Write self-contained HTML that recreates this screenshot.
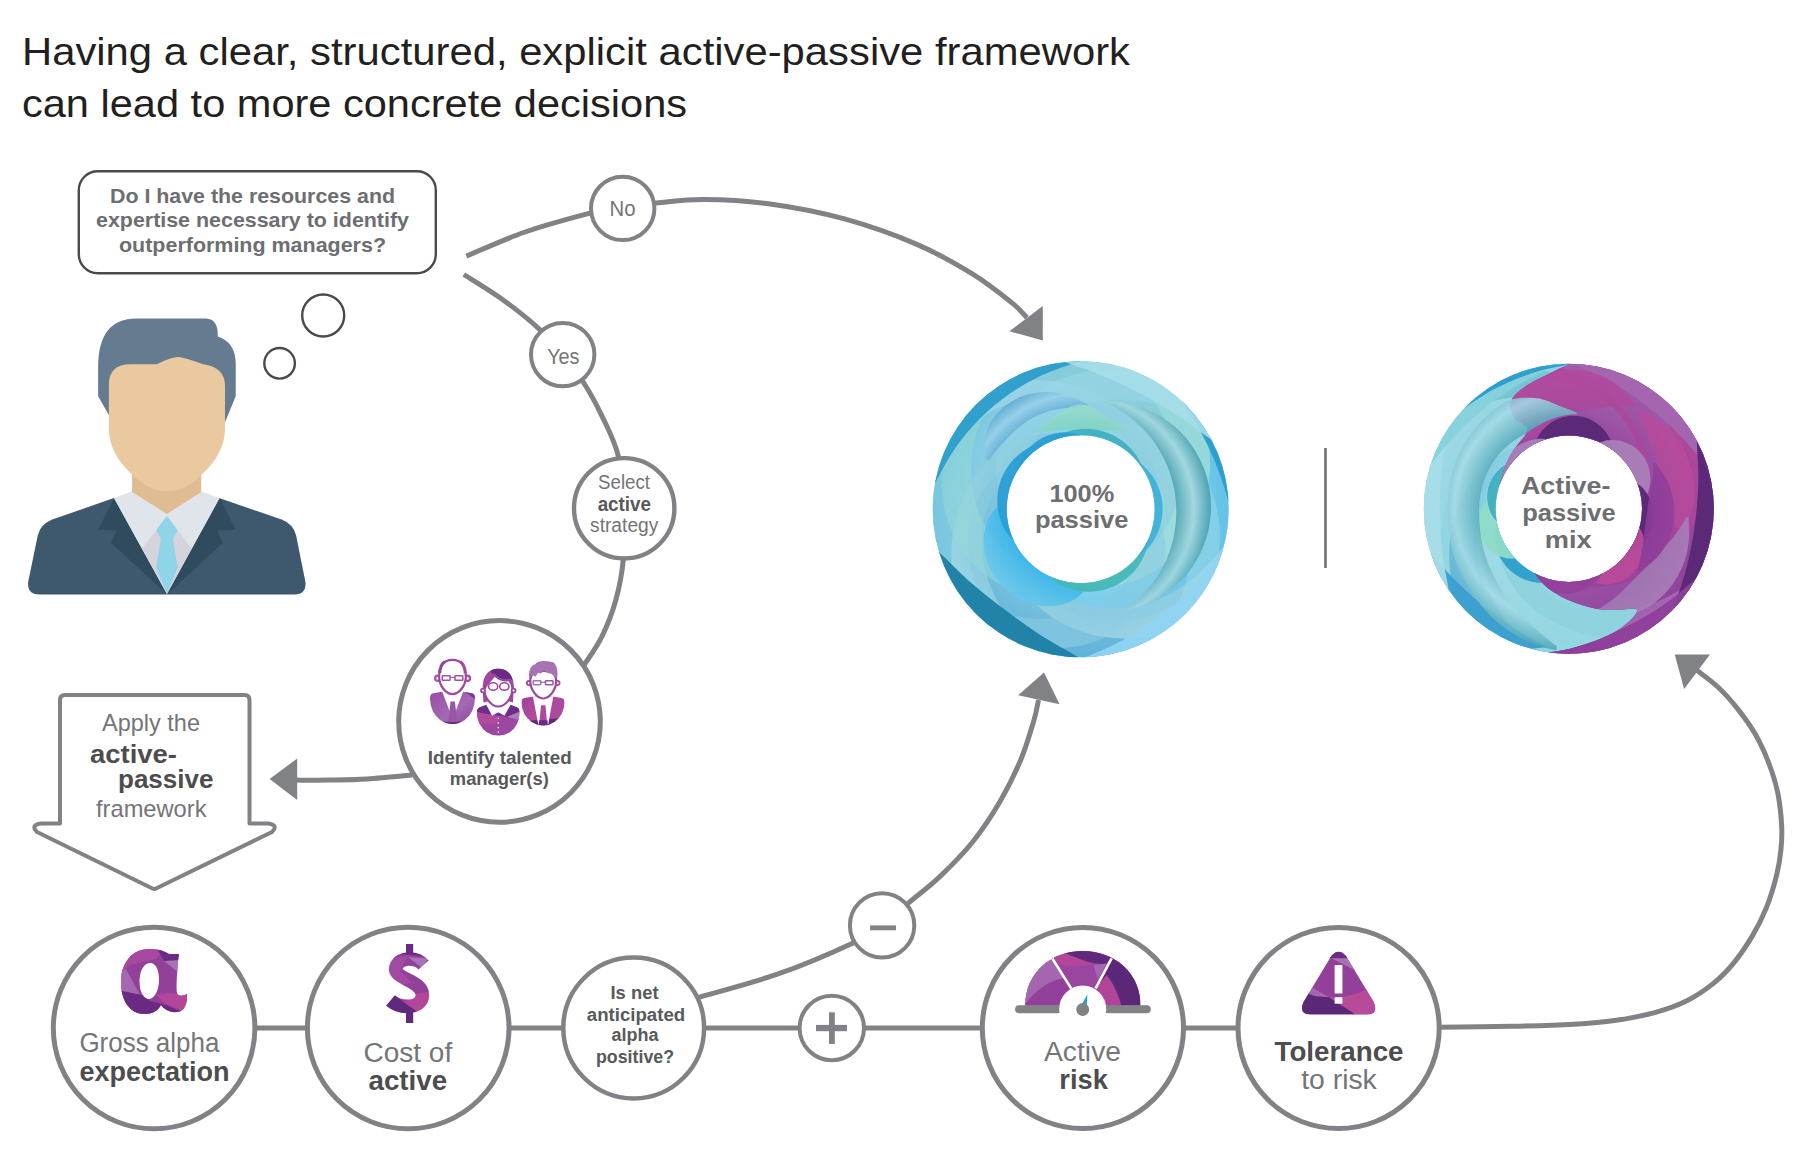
<!DOCTYPE html>
<html><head><meta charset="utf-8">
<style>
html,body{margin:0;padding:0;background:#fff;}
svg{display:block}
text{font-family:"Liberation Sans",sans-serif;}
.b{font-weight:bold}
</style></head>
<body>
<svg width="1799" height="1171" viewBox="0 0 1799 1171">

<rect width="1799" height="1171" fill="#fff"/>
<!-- TITLE -->
<g fill="#231f20" font-size="39">
<text x="22" y="64.5" textLength="1108" lengthAdjust="spacingAndGlyphs">Having a clear, structured, explicit active-passive framework</text>
<text x="22" y="116.7" textLength="665" lengthAdjust="spacingAndGlyphs">can lead to more concrete decisions</text>
</g>
<!-- BUBBLE -->
<rect x="78.8" y="171.2" width="357" height="102" rx="19" ry="19" fill="#fff" stroke="#4a4a4c" stroke-width="2.4"/>
<g class="b" fill="#6d6e71" font-size="20.5" text-anchor="middle">
<text x="252.5" y="202.5" textLength="285" lengthAdjust="spacingAndGlyphs">Do I have the resources and</text>
<text x="252.5" y="227" textLength="313" lengthAdjust="spacingAndGlyphs">expertise necessary to identify</text>
<text x="252.5" y="251.5" textLength="267" lengthAdjust="spacingAndGlyphs">outperforming managers?</text>
</g>
<circle cx="323.2" cy="315.5" r="21" fill="#fff" stroke="#4a4a4c" stroke-width="2.4"/>
<circle cx="279.6" cy="363.3" r="15.3" fill="#fff" stroke="#4a4a4c" stroke-width="2.4"/>
<!-- PERSON (coords in 3.444x crop space, offset 0,280) -->
<g transform="translate(0,280) scale(0.29032)">
<path d="M97,1040 L130,880 Q140,840 180,825 L390,752 L757,752 L970,825 Q1010,840 1020,880 L1052,1040 Q1056,1083 1015,1083 L135,1083 Q93,1083 97,1040 Z" fill="#3e586d"/>
<path d="M392,752 L455,728 L693,728 L757,752 L575,1083 Z" fill="#dfe5ea"/>
<path d="M455,660 L693,660 L693,730 L575,806 L455,730 Z" fill="#e0bc93"/>
<path d="M535,865 L490,925 L575,1083 L660,925 L615,865 Z" fill="#d5d4dd"/>
<path d="M575,812 L612,862 L596,892 L612,990 L575,1083 L538,990 L554,892 L538,862 Z" fill="#90d4e8"/>
<path d="M392,752 L338,860 L402,863 L382,905 L575,1083 Z" fill="#304a5e"/>
<path d="M757,752 L812,860 L748,863 L768,905 L575,1083 Z" fill="#304a5e"/>
<path d="M338,300 Q338,133 470,133 L710,133 Q752,135 750,195 Q812,215 812,290 L812,400 L775,490 L375,465 L338,400 Z" fill="#657c90"/>
<path d="M375,360 Q375,290 450,290 L540,290 Q590,265 615,265 Q640,268 700,290 Q775,300 775,365 L775,520 Q770,600 700,665 Q640,728 575,728 Q510,728 450,665 Q380,600 375,520 Z" fill="#ebc9a0"/>
</g>
<!-- CURVES -->
<g fill="none" stroke="#808285" stroke-width="5">
<path d="M466.4,256.1 C476.2,252.1 504.4,239.2 525.0,232.0 C545.5,224.8 573.4,217.5 589.7,213.2 C606.0,208.9 611.6,207.7 622.7,206.0 C633.8,204.3 642.9,204.0 656.5,202.9 C670.1,201.8 685.1,199.4 704.1,199.6 C723.1,199.8 747.0,200.8 770.2,204.0 C793.5,207.2 819.2,212.0 843.6,218.7 C868.0,225.4 895.5,235.2 916.9,244.4 C938.3,253.6 956.1,263.9 972.0,273.7 C987.9,283.5 1003.1,295.8 1012.3,303.1 C1021.5,310.5 1024.5,315.4 1027.0,317.8"/>
<path d="M463.8,274.5 C470.2,278.6 489.9,290.3 502.4,299.4 C514.9,308.4 529.0,319.6 539.0,328.8 C549.0,338.0 555.3,345.7 562.7,354.6 C570.1,363.5 576.7,371.8 583.2,382.0 C589.8,392.2 596.1,403.7 602.0,416.1 C607.9,428.5 614.7,441.0 618.4,456.4 C622.1,471.8 623.4,491.0 624.2,508.3 C625.0,525.6 624.6,544.8 623.2,560.2 C621.8,575.6 619.2,587.8 615.7,600.5 C612.2,613.2 607.1,625.9 602.0,636.4 C596.9,646.9 589.5,656.8 585.0,663.7 C580.5,670.6 576.7,675.6 575.0,678.0"/>
<path d="M412.0,775.0 C404.5,775.7 380.5,778.1 366.9,779.0 C353.3,779.9 342.2,779.9 330.2,780.1 C318.2,780.3 300.9,780.1 295.0,780.1"/>
<path d="M698.0,997.5 C711.2,993.6 751.6,983.2 777.3,974.2 C803.0,965.2 834.6,951.5 852.0,943.4 C869.4,935.3 872.3,932.3 881.8,925.5 C891.2,918.7 899.1,910.9 908.7,902.8 C918.3,894.7 929.1,886.9 939.6,876.9 C950.1,866.9 962.0,855.2 972.0,842.8 C982.0,830.3 991.5,816.0 999.6,802.2 C1007.7,788.4 1015.0,773.5 1020.7,760.0 C1026.4,746.5 1030.7,731.1 1033.7,721.1 C1036.7,711.1 1037.7,703.5 1038.5,700.0"/>
<path d="M1438.0,1027.2 C1450.3,1027.0 1489.4,1026.8 1512.0,1026.3 C1534.6,1025.8 1556.5,1025.2 1573.6,1024.2 C1590.7,1023.2 1600.9,1022.5 1614.6,1020.5 C1628.3,1018.5 1643.6,1015.5 1655.6,1012.3 C1667.6,1009.0 1676.8,1005.8 1686.4,1001.0 C1696.0,996.2 1705.2,989.9 1713.1,983.6 C1721.0,977.3 1727.1,971.0 1733.6,963.1 C1740.1,955.2 1746.6,945.6 1752.1,936.4 C1757.6,927.2 1762.3,918.0 1766.4,907.7 C1770.5,897.5 1774.3,884.5 1776.7,874.9 C1779.1,865.3 1780.1,858.1 1780.9,850.0 C1781.7,841.9 1782.2,836.0 1781.7,826.5 C1781.2,817.0 1779.9,803.6 1777.8,793.1 C1775.7,782.6 1772.8,773.4 1769.0,763.6 C1765.2,753.8 1760.5,743.3 1755.2,734.1 C1750.0,724.9 1743.7,716.5 1737.5,708.6 C1731.3,700.8 1724.5,693.2 1717.9,687.0 C1711.4,680.8 1702.5,674.6 1698.2,671.3 C1693.9,668.0 1693.0,667.7 1692.0,667.0"/>
<path d="M153,1028 L1340,1028"/>
</g>
<g fill="#808285">
<path d="M1042.8,306 L1042.8,340.5 L1009.4,331.3 Z"/>
<path d="M269.6,779 L297.2,758.5 L297.2,800 Z"/>
<path d="M1044,672.4 L1018.1,695.2 L1059.6,704.2 Z"/>
<path d="M1674.7,654.6 L1710,654.6 L1684.1,688.9 Z"/>
</g>
<!-- SMALL CIRCLES -->
<g fill="#fff" stroke="#808285" stroke-width="4">
<circle cx="622.7" cy="208.4" r="31.7"/>
<circle cx="562.7" cy="354.6" r="31.7"/>
<circle cx="624.2" cy="508.3" r="50.2" stroke-width="4.4"/>
<circle cx="882.1" cy="925.4" r="32.2"/>
<circle cx="831.8" cy="1028" r="32.2"/>
</g>
<g fill="#808285">
<rect x="870.1" y="925.4" width="25.9" height="4.9"/>
<rect x="816" y="1024.9" width="31" height="6.3"/>
<rect x="829" y="1012.3" width="5.8" height="31.6"/>
</g>
<g fill="#747578" font-size="22" text-anchor="middle">
<text x="622.5" y="216.2" textLength="26" lengthAdjust="spacingAndGlyphs">No</text>
<text x="563.3" y="364.3" textLength="32.3" lengthAdjust="spacingAndGlyphs">Yes</text>
</g>
<g fill="#747578" font-size="19.5" text-anchor="middle">
<text x="624" y="488.9" textLength="52" lengthAdjust="spacingAndGlyphs">Select</text>
<text x="624.3" y="510.7" class="b" fill="#58595b" textLength="53.3" lengthAdjust="spacingAndGlyphs">active</text>
<text x="624.2" y="532.2" textLength="68.3" lengthAdjust="spacingAndGlyphs">strategy</text>
</g>
<!-- BIG CIRCLES -->
<g fill="#fff" stroke="#808285" stroke-width="5">
<circle cx="499.5" cy="721.4" r="100.8"/>
<circle cx="154.1" cy="1028" r="100.8"/>
<circle cx="408.2" cy="1028" r="100.8"/>
<circle cx="633.7" cy="1028" r="70.4" stroke-width="4.5"/>
<circle cx="1082.9" cy="1028" r="100.6"/>
<circle cx="1338.6" cy="1028" r="100.6"/>
</g>
<!-- BLOCK ARROW -->
<path d="M60,700 Q60,695 65,695 L244.5,695 Q249.5,695 249.5,700 L249.5,823.5 L268,823.5 Q279,825 272,832 L156,888.5 Q154.3,889.5 152.5,888.5 L37,832 Q30,825 41,823.5 L60,823.5 Z" fill="#fff" stroke="#808285" stroke-width="4" stroke-linejoin="round"/>
<g fill="#747578" font-size="24">
<text x="102" y="731.3" textLength="98" lengthAdjust="spacingAndGlyphs">Apply the</text>
<text x="96" y="816.5" textLength="110.5" lengthAdjust="spacingAndGlyphs">framework</text>
</g>
<g fill="#4d4d4f" class="b" font-size="26.5">
<text x="90" y="762.5" textLength="87" lengthAdjust="spacingAndGlyphs">active-</text>
<text x="118" y="788.2" textLength="95.5" lengthAdjust="spacingAndGlyphs">passive</text>
</g>
<!-- IDENTIFY TEXT -->
<g fill="#58595b" class="b" font-size="18.5" text-anchor="middle">
<text x="499.7" y="764.4" textLength="144" lengthAdjust="spacingAndGlyphs">Identify talented</text>
<text x="499.3" y="785.3" textLength="99" lengthAdjust="spacingAndGlyphs">manager(s)</text>
</g>
<!-- BOTTOM TEXTS -->
<g fill="#747578" font-size="27">
<text x="79.4" y="1051.8" textLength="140" lengthAdjust="spacingAndGlyphs">Gross alpha</text>
<text x="363.5" y="1061.5" textLength="88.7" lengthAdjust="spacingAndGlyphs">Cost of</text>
<text x="1044" y="1061.4" textLength="77" lengthAdjust="spacingAndGlyphs">Active</text>
<text x="1301.2" y="1089" textLength="75.6" lengthAdjust="spacingAndGlyphs">to risk</text>
</g>
<g fill="#4d4d4f" class="b" font-size="27">
<text x="79.4" y="1081" textLength="150" lengthAdjust="spacingAndGlyphs">expectation</text>
<text x="368.5" y="1089.9" textLength="78.6" lengthAdjust="spacingAndGlyphs">active</text>
<text x="1059.3" y="1089" textLength="48.5" lengthAdjust="spacingAndGlyphs">risk</text>
<text x="1274.5" y="1061.4" textLength="129" lengthAdjust="spacingAndGlyphs">Tolerance</text>
</g>
<g fill="#58595b" class="b" font-size="18" text-anchor="middle">
<text x="634.5" y="999.2" textLength="48" lengthAdjust="spacingAndGlyphs">Is net</text>
<text x="636" y="1020.6" textLength="98.4" lengthAdjust="spacingAndGlyphs">anticipated</text>
<text x="635" y="1041.2" textLength="47" lengthAdjust="spacingAndGlyphs">alpha</text>
<text x="635" y="1062.6" textLength="78" lengthAdjust="spacingAndGlyphs">positive?</text>
</g>
<!-- RINGS -->
<defs><clipPath id="Lclip"><path clip-rule="evenodd" d="M932.7,509.2 a148.0,148.0 0 1,0 296.0,0 a148.0,148.0 0 1,0 -296.0,0 Z M1006.7,509.2 a74.0,74.0 0 1,1 148.0,0 a74.0,74.0 0 1,1 -148.0,0 Z"/></clipPath>
<radialGradient id="rg1" gradientUnits="userSpaceOnUse" cx="1080.7" cy="509.2" r="159.4"><stop offset="0.392" stop-color="#8acbe0"/><stop offset="1" stop-color="#9bd6e6"/></radialGradient>
<radialGradient id="rg2" gradientUnits="userSpaceOnUse" cx="1080.7" cy="509.2" r="159.4"><stop offset="0.392" stop-color="#9ad8e0"/><stop offset="1" stop-color="#7cc6d6"/></radialGradient>
<radialGradient id="rg3" gradientUnits="userSpaceOnUse" cx="1080.7" cy="509.2" r="159.4"><stop offset="0.392" stop-color="#a8e0e0"/><stop offset="1" stop-color="#8fd8d8"/></radialGradient>
<radialGradient id="rg4" gradientUnits="userSpaceOnUse" cx="1080.7" cy="509.2" r="159.4"><stop offset="0.392" stop-color="#8ad4f0"/><stop offset="1" stop-color="#4fbce8"/></radialGradient>
<radialGradient id="rg5" gradientUnits="userSpaceOnUse" cx="1080.7" cy="509.2" r="159.4"><stop offset="0.392" stop-color="#86c6dc"/><stop offset="1" stop-color="#9ed4e4"/></radialGradient>
<radialGradient id="rg6" gradientUnits="userSpaceOnUse" cx="1080.7" cy="509.2" r="159.4"><stop offset="0.392" stop-color="#8ac8e4"/><stop offset="1" stop-color="#4aa8d4"/></radialGradient>
<radialGradient id="rg7" gradientUnits="userSpaceOnUse" cx="1080.7" cy="509.2" r="159.4"><stop offset="0.392" stop-color="#7cc4da"/><stop offset="1" stop-color="#a0d8e6"/></radialGradient>
<radialGradient id="rg8" gradientUnits="userSpaceOnUse" cx="1080.7" cy="509.2" r="159.4"><stop offset="0.392" stop-color="#9ad8ea"/><stop offset="1" stop-color="#6cc0dc"/></radialGradient>
<radialGradient id="rg9" gradientUnits="userSpaceOnUse" cx="1080.7" cy="509.2" r="157.4"><stop offset="0.411" stop-color="#8ccfe2"/><stop offset="1" stop-color="#a4dcea"/></radialGradient>
<radialGradient id="rg10" gradientUnits="userSpaceOnUse" cx="1080.7" cy="509.2" r="157.4"><stop offset="0.411" stop-color="#a4e0dc"/><stop offset="1" stop-color="#8fd6d4"/></radialGradient>
<radialGradient id="rg11" gradientUnits="userSpaceOnUse" cx="1080.7" cy="509.2" r="157.4"><stop offset="0.411" stop-color="#7ec4e0"/><stop offset="1" stop-color="#9ad4e8"/></radialGradient>
<radialGradient id="rg12" gradientUnits="userSpaceOnUse" cx="1080.7" cy="509.2" r="157.4"><stop offset="0.411" stop-color="#8fd0e0"/><stop offset="1" stop-color="#a6dde8"/></radialGradient>
<radialGradient id="rg13" gradientUnits="userSpaceOnUse" cx="1080.7" cy="509.2" r="130.5"><stop offset="0.732" stop-color="#4aa2b0"/><stop offset="0.866" stop-color="#a4d8e0"/><stop offset="1" stop-color="#3f9aa8"/></radialGradient>
<radialGradient id="rg14" gradientUnits="userSpaceOnUse" cx="1080.7" cy="509.2" r="110.0"><stop offset="0.664" stop-color="#2fb2ea"/><stop offset="1" stop-color="#6cc8ee"/></radialGradient>
<radialGradient id="rg15" gradientUnits="userSpaceOnUse" cx="1080.7" cy="509.2" r="128.1"><stop offset="0.797" stop-color="#62aed6"/><stop offset="0.898" stop-color="#9ad0ea"/><stop offset="1" stop-color="#5aa8d2"/></radialGradient>
<radialGradient id="rg16" gradientUnits="userSpaceOnUse" cx="1080.7" cy="509.2" r="105.0"><stop offset="0.762" stop-color="#7fd2c4"/><stop offset="1" stop-color="#9adccc"/></radialGradient>
<radialGradient id="rg17" gradientUnits="userSpaceOnUse" cx="1080.7" cy="509.2" r="149.0"><stop offset="0.906" stop-color="#2b9dcc"/><stop offset="1" stop-color="#2b9dcc"/></radialGradient>
<radialGradient id="rg18" gradientUnits="userSpaceOnUse" cx="1080.7" cy="509.2" r="149.0"><stop offset="0.846" stop-color="#1c7fa5"/><stop offset="1" stop-color="#1c7fa5"/></radialGradient>
<radialGradient id="rg19" gradientUnits="userSpaceOnUse" cx="1080.7" cy="509.2" r="149.0"><stop offset="0.893" stop-color="#8fd4f2"/><stop offset="1" stop-color="#8fd4f2"/></radialGradient>
<radialGradient id="rg20" gradientUnits="userSpaceOnUse" cx="1080.7" cy="509.2" r="149.0"><stop offset="0.953" stop-color="#2a9dcc"/><stop offset="1" stop-color="#2a9dcc"/></radialGradient>
<radialGradient id="rg21" gradientUnits="userSpaceOnUse" cx="1080.7" cy="509.2" r="149.0"><stop offset="0.873" stop-color="#a6dde8"/><stop offset="1" stop-color="#a6dde8"/></radialGradient>
<radialGradient id="rg22" gradientUnits="userSpaceOnUse" cx="1080.7" cy="509.2" r="85.0"><stop offset="0.859" stop-color="#2a9fd4"/><stop offset="1" stop-color="#2a9fd4"/></radialGradient>
<radialGradient id="rg23" gradientUnits="userSpaceOnUse" cx="1080.7" cy="509.2" r="84.0"><stop offset="0.869" stop-color="#45b8b8"/><stop offset="1" stop-color="#45b8b8"/></radialGradient>
<radialGradient id="rg24" gradientUnits="userSpaceOnUse" cx="1080.7" cy="509.2" r="81.0"><stop offset="0.901" stop-color="#3fb0c0"/><stop offset="1" stop-color="#3fb0c0"/></radialGradient>
<radialGradient id="rg25" gradientUnits="userSpaceOnUse" cx="1080.7" cy="509.2" r="81.0"><stop offset="0.902" stop-color="#2a9fd4"/><stop offset="1" stop-color="#2a9fd4"/></radialGradient>
<radialGradient id="rg26" gradientUnits="userSpaceOnUse" cx="1080.7" cy="509.2" r="82.0"><stop offset="0.890" stop-color="#3ab0d8"/><stop offset="1" stop-color="#3ab0d8"/></radialGradient></defs>
<g clip-path="url(#Lclip)">
<rect x="930.7" y="359.2" width="300.0" height="300.0" fill="#93d2e2"/>
<path d="M927.1,482.1 L926.1,470.5 L929.1,459.7 L933.4,449.3 L938.7,439.3 L944.7,429.9 L951.5,421.1 L959.0,413.0 L967.0,405.5 L975.6,398.7 L984.6,392.7 L993.9,387.4 L1003.5,382.9 L1013.4,379.3 L1023.4,376.4 L1033.5,374.4 L1043.6,373.1 L1053.7,372.7 L1063.6,373.1 L1073.4,374.2 L1082.9,376.1 L1092.1,378.7 L1101.0,382.0 L1109.4,385.9 L1117.3,390.4 L1124.8,395.5 L1131.7,401.0 L1138.0,407.0 L1143.7,413.4 L1148.7,420.2 L1153.1,427.2 L1156.8,434.4 L1159.8,441.7 L1162.0,449.2 L1163.6,456.6 L1164.4,464.0 L1164.6,471.3 L1164.0,478.5 L1162.7,485.4 L1160.7,492.0 L1157.9,498.2 L1154.1,504.0 L1146.7,509.2 L1146.7,509.2 L1143.2,504.8 L1142.6,500.4 L1142.3,495.9 L1141.9,491.4 L1141.3,486.8 L1140.6,482.2 L1139.5,477.5 L1138.2,472.7 L1136.6,467.9 L1134.7,463.2 L1132.4,458.4 L1129.7,453.7 L1126.6,449.1 L1123.2,444.5 L1119.4,440.2 L1115.2,435.9 L1110.7,431.9 L1105.7,428.1 L1100.4,424.6 L1094.7,421.4 L1088.6,418.5 L1082.2,416.0 L1075.5,413.9 L1068.6,412.3 L1061.3,411.1 L1053.8,410.4 L1046.1,410.2 L1038.2,410.6 L1030.1,411.6 L1022.0,413.1 L1013.8,415.3 L1005.6,418.1 L997.4,421.6 L989.2,425.7 L981.2,430.5 L973.3,436.0 L965.6,442.1 L958.2,448.9 L950.9,456.4 L943.8,464.5 L936.7,473.2 L927.1,482.1 Z" fill="url(#rg1)" fill-opacity="0.80"/>
<path d="M991.2,381.4 L998.8,372.6 L1008.6,367.0 L1018.9,362.7 L1029.7,359.4 L1040.6,357.0 L1051.6,355.6 L1062.7,355.1 L1073.7,355.5 L1084.5,356.7 L1095.1,358.8 L1105.4,361.7 L1115.4,365.4 L1125.0,369.7 L1134.1,374.8 L1142.7,380.5 L1150.7,386.8 L1158.1,393.6 L1164.9,400.9 L1171.0,408.6 L1176.4,416.7 L1181.1,425.0 L1185.0,433.6 L1188.2,442.3 L1190.6,451.1 L1192.3,460.0 L1193.2,468.8 L1193.4,477.5 L1192.9,486.0 L1191.7,494.3 L1189.9,502.4 L1187.4,510.1 L1184.3,517.4 L1180.6,524.3 L1176.5,530.6 L1171.8,536.5 L1166.8,541.8 L1161.3,546.4 L1155.6,550.4 L1149.5,553.6 L1143.1,556.0 L1136.3,557.4 L1127.4,555.9 L1127.4,555.9 L1128.0,550.3 L1130.7,546.8 L1133.6,543.4 L1136.5,539.9 L1139.4,536.3 L1142.1,532.4 L1144.7,528.4 L1147.2,524.1 L1149.4,519.6 L1151.4,514.8 L1153.1,509.8 L1154.6,504.6 L1155.7,499.2 L1156.5,493.6 L1156.9,487.8 L1156.9,481.8 L1156.5,475.7 L1155.7,469.6 L1154.4,463.3 L1152.7,457.0 L1150.4,450.7 L1147.7,444.4 L1144.4,438.2 L1140.6,432.1 L1136.4,426.1 L1131.5,420.3 L1126.2,414.7 L1120.3,409.4 L1114.0,404.4 L1107.1,399.7 L1099.8,395.5 L1092.0,391.7 L1083.7,388.3 L1075.0,385.5 L1066.0,383.2 L1056.5,381.5 L1046.8,380.4 L1036.7,379.9 L1026.3,380.1 L1015.5,380.8 L1004.4,381.9 L991.2,381.4 Z" fill="url(#rg2)" fill-opacity="0.80"/>
<path d="M1107.8,355.6 L1119.4,354.6 L1130.2,357.6 L1140.6,361.9 L1150.6,367.2 L1160.0,373.2 L1168.8,380.0 L1176.9,387.5 L1184.4,395.5 L1191.2,404.1 L1197.2,413.1 L1202.5,422.4 L1207.0,432.0 L1210.6,441.9 L1213.5,451.9 L1215.5,462.0 L1216.8,472.1 L1217.2,482.2 L1216.8,492.1 L1215.7,501.9 L1213.8,511.4 L1211.2,520.6 L1207.9,529.5 L1204.0,537.9 L1199.5,545.8 L1194.4,553.3 L1188.9,560.2 L1182.9,566.5 L1176.5,572.2 L1169.7,577.2 L1162.7,581.6 L1155.5,585.3 L1148.2,588.3 L1140.7,590.5 L1133.3,592.1 L1125.9,592.9 L1118.6,593.1 L1111.4,592.5 L1104.5,591.2 L1097.9,589.2 L1091.7,586.4 L1085.9,582.6 L1080.7,575.2 L1080.7,575.2 L1085.1,571.7 L1089.5,571.1 L1094.0,570.8 L1098.5,570.4 L1103.1,569.8 L1107.7,569.1 L1112.4,568.0 L1117.2,566.7 L1122.0,565.1 L1126.7,563.2 L1131.5,560.9 L1136.2,558.2 L1140.8,555.1 L1145.4,551.7 L1149.7,547.9 L1154.0,543.7 L1158.0,539.2 L1161.8,534.2 L1165.3,528.9 L1168.5,523.2 L1171.4,517.1 L1173.9,510.7 L1176.0,504.0 L1177.6,497.1 L1178.8,489.8 L1179.5,482.3 L1179.7,474.6 L1179.3,466.7 L1178.3,458.6 L1176.8,450.5 L1174.6,442.3 L1171.8,434.1 L1168.3,425.9 L1164.2,417.7 L1159.4,409.7 L1153.9,401.8 L1147.8,394.1 L1141.0,386.7 L1133.5,379.4 L1125.4,372.3 L1116.7,365.2 L1107.8,355.6 Z" fill="url(#rg3)" fill-opacity="0.80"/>
<path d="M1208.5,419.7 L1217.3,427.3 L1222.9,437.1 L1227.2,447.4 L1230.5,458.2 L1232.9,469.1 L1234.3,480.1 L1234.8,491.2 L1234.4,502.2 L1233.2,513.0 L1231.1,523.6 L1228.2,533.9 L1224.5,543.9 L1220.2,553.5 L1215.1,562.6 L1209.4,571.2 L1203.1,579.2 L1196.3,586.6 L1189.0,593.4 L1181.3,599.5 L1173.2,604.9 L1164.9,609.6 L1156.3,613.5 L1147.6,616.7 L1138.8,619.1 L1129.9,620.8 L1121.1,621.7 L1112.4,621.9 L1103.9,621.4 L1095.6,620.2 L1087.5,618.4 L1079.8,615.9 L1072.5,612.8 L1065.6,609.1 L1059.3,605.0 L1053.4,600.3 L1048.1,595.3 L1043.5,589.8 L1039.5,584.1 L1036.3,578.0 L1033.9,571.6 L1032.5,564.8 L1034.0,555.9 L1034.0,555.9 L1039.6,556.5 L1043.1,559.2 L1046.5,562.1 L1050.0,565.0 L1053.6,567.9 L1057.5,570.6 L1061.5,573.2 L1065.8,575.7 L1070.3,577.9 L1075.1,579.9 L1080.1,581.6 L1085.3,583.1 L1090.7,584.2 L1096.3,585.0 L1102.1,585.4 L1108.1,585.4 L1114.2,585.0 L1120.3,584.2 L1126.6,582.9 L1132.9,581.2 L1139.2,578.9 L1145.5,576.2 L1151.7,572.9 L1157.8,569.1 L1163.8,564.9 L1169.6,560.0 L1175.2,554.7 L1180.5,548.8 L1185.5,542.5 L1190.2,535.6 L1194.4,528.3 L1198.2,520.5 L1201.6,512.2 L1204.4,503.5 L1206.7,494.5 L1208.4,485.0 L1209.5,475.3 L1210.0,465.2 L1209.8,454.8 L1209.1,444.0 L1208.0,432.9 L1208.5,419.7 Z" fill="url(#rg4)" fill-opacity="0.80"/>
<path d="M1234.3,536.3 L1235.3,547.9 L1232.3,558.7 L1228.0,569.1 L1222.7,579.1 L1216.7,588.5 L1209.9,597.3 L1202.4,605.4 L1194.4,612.9 L1185.8,619.7 L1176.8,625.7 L1167.5,631.0 L1157.9,635.5 L1148.0,639.1 L1138.0,642.0 L1127.9,644.0 L1117.8,645.3 L1107.7,645.7 L1097.8,645.3 L1088.0,644.2 L1078.5,642.3 L1069.3,639.7 L1060.4,636.4 L1052.0,632.5 L1044.1,628.0 L1036.6,622.9 L1029.7,617.4 L1023.4,611.4 L1017.7,605.0 L1012.7,598.2 L1008.3,591.2 L1004.6,584.0 L1001.6,576.7 L999.4,569.2 L997.8,561.8 L997.0,554.4 L996.8,547.1 L997.4,539.9 L998.7,533.0 L1000.7,526.4 L1003.5,520.2 L1007.3,514.4 L1014.7,509.2 L1014.7,509.2 L1018.2,513.6 L1018.8,518.0 L1019.1,522.5 L1019.5,527.0 L1020.1,531.6 L1020.8,536.2 L1021.9,540.9 L1023.2,545.7 L1024.8,550.5 L1026.7,555.2 L1029.0,560.0 L1031.7,564.7 L1034.8,569.3 L1038.2,573.9 L1042.0,578.2 L1046.2,582.5 L1050.7,586.5 L1055.7,590.3 L1061.0,593.8 L1066.7,597.0 L1072.8,599.9 L1079.2,602.4 L1085.9,604.5 L1092.8,606.1 L1100.1,607.3 L1107.6,608.0 L1115.3,608.2 L1123.2,607.8 L1131.3,606.8 L1139.4,605.3 L1147.6,603.1 L1155.8,600.3 L1164.0,596.8 L1172.2,592.7 L1180.2,587.9 L1188.1,582.4 L1195.8,576.3 L1203.2,569.5 L1210.5,562.0 L1217.6,553.9 L1224.7,545.2 L1234.3,536.3 Z" fill="url(#rg5)" fill-opacity="0.80"/>
<path d="M1170.2,637.0 L1162.6,645.8 L1152.8,651.4 L1142.5,655.7 L1131.7,659.0 L1120.8,661.4 L1109.8,662.8 L1098.7,663.3 L1087.7,662.9 L1076.9,661.7 L1066.3,659.6 L1056.0,656.7 L1046.0,653.0 L1036.4,648.7 L1027.3,643.6 L1018.7,637.9 L1010.7,631.6 L1003.3,624.8 L996.5,617.5 L990.4,609.8 L985.0,601.7 L980.3,593.4 L976.4,584.8 L973.2,576.1 L970.8,567.3 L969.1,558.4 L968.2,549.6 L968.0,540.9 L968.5,532.4 L969.7,524.1 L971.5,516.0 L974.0,508.3 L977.1,501.0 L980.8,494.1 L984.9,487.8 L989.6,481.9 L994.6,476.6 L1000.1,472.0 L1005.8,468.0 L1011.9,464.8 L1018.3,462.4 L1025.1,461.0 L1034.0,462.5 L1034.0,462.5 L1033.4,468.1 L1030.7,471.6 L1027.8,475.0 L1024.9,478.5 L1022.0,482.1 L1019.3,486.0 L1016.7,490.0 L1014.2,494.3 L1012.0,498.8 L1010.0,503.6 L1008.3,508.6 L1006.8,513.8 L1005.7,519.2 L1004.9,524.8 L1004.5,530.6 L1004.5,536.6 L1004.9,542.7 L1005.7,548.8 L1007.0,555.1 L1008.7,561.4 L1011.0,567.7 L1013.7,574.0 L1017.0,580.2 L1020.8,586.3 L1025.0,592.3 L1029.9,598.1 L1035.2,603.7 L1041.1,609.0 L1047.4,614.0 L1054.3,618.7 L1061.6,622.9 L1069.4,626.7 L1077.7,630.1 L1086.4,632.9 L1095.4,635.2 L1104.9,636.9 L1114.6,638.0 L1124.7,638.5 L1135.1,638.3 L1145.9,637.6 L1157.0,636.5 L1170.2,637.0 Z" fill="url(#rg6)" fill-opacity="0.80"/>
<path d="M1053.6,662.8 L1042.0,663.8 L1031.2,660.8 L1020.8,656.5 L1010.8,651.2 L1001.4,645.2 L992.6,638.4 L984.5,630.9 L977.0,622.9 L970.2,614.3 L964.2,605.3 L958.9,596.0 L954.4,586.4 L950.8,576.5 L947.9,566.5 L945.9,556.4 L944.6,546.3 L944.2,536.2 L944.6,526.3 L945.7,516.5 L947.6,507.0 L950.2,497.8 L953.5,488.9 L957.4,480.5 L961.9,472.6 L967.0,465.1 L972.5,458.2 L978.5,451.9 L984.9,446.2 L991.7,441.2 L998.7,436.8 L1005.9,433.1 L1013.2,430.1 L1020.7,427.9 L1028.1,426.3 L1035.5,425.5 L1042.8,425.3 L1050.0,425.9 L1056.9,427.2 L1063.5,429.2 L1069.7,432.0 L1075.5,435.8 L1080.7,443.2 L1080.7,443.2 L1076.3,446.7 L1071.9,447.3 L1067.4,447.6 L1062.9,448.0 L1058.3,448.6 L1053.7,449.3 L1049.0,450.4 L1044.2,451.7 L1039.4,453.3 L1034.7,455.2 L1029.9,457.5 L1025.2,460.2 L1020.6,463.3 L1016.0,466.7 L1011.7,470.5 L1007.4,474.7 L1003.4,479.2 L999.6,484.2 L996.1,489.5 L992.9,495.2 L990.0,501.3 L987.5,507.7 L985.4,514.4 L983.8,521.3 L982.6,528.6 L981.9,536.1 L981.7,543.8 L982.1,551.7 L983.1,559.8 L984.6,567.9 L986.8,576.1 L989.6,584.3 L993.1,592.5 L997.2,600.7 L1002.0,608.7 L1007.5,616.6 L1013.6,624.3 L1020.4,631.7 L1027.9,639.0 L1036.0,646.1 L1044.7,653.2 L1053.6,662.8 Z" fill="url(#rg7)" fill-opacity="0.80"/>
<path d="M952.9,598.7 L944.1,591.1 L938.5,581.3 L934.2,571.0 L930.9,560.2 L928.5,549.3 L927.1,538.3 L926.6,527.2 L927.0,516.2 L928.2,505.4 L930.3,494.8 L933.2,484.5 L936.9,474.5 L941.2,464.9 L946.3,455.8 L952.0,447.2 L958.3,439.2 L965.1,431.8 L972.4,425.0 L980.1,418.9 L988.2,413.5 L996.5,408.8 L1005.1,404.9 L1013.8,401.7 L1022.6,399.3 L1031.5,397.6 L1040.3,396.7 L1049.0,396.5 L1057.5,397.0 L1065.8,398.2 L1073.9,400.0 L1081.6,402.5 L1088.9,405.6 L1095.8,409.3 L1102.1,413.4 L1108.0,418.1 L1113.3,423.1 L1117.9,428.6 L1121.9,434.3 L1125.1,440.4 L1127.5,446.8 L1128.9,453.6 L1127.4,462.5 L1127.4,462.5 L1121.8,461.9 L1118.3,459.2 L1114.9,456.3 L1111.4,453.4 L1107.8,450.5 L1103.9,447.8 L1099.9,445.2 L1095.6,442.7 L1091.1,440.5 L1086.3,438.5 L1081.3,436.8 L1076.1,435.3 L1070.7,434.2 L1065.1,433.4 L1059.3,433.0 L1053.3,433.0 L1047.2,433.4 L1041.1,434.2 L1034.8,435.5 L1028.5,437.2 L1022.2,439.5 L1015.9,442.2 L1009.7,445.5 L1003.6,449.3 L997.6,453.5 L991.8,458.4 L986.2,463.7 L980.9,469.6 L975.9,475.9 L971.2,482.8 L967.0,490.1 L963.2,497.9 L959.8,506.2 L957.0,514.9 L954.7,523.9 L953.0,533.4 L951.9,543.1 L951.4,553.2 L951.6,563.6 L952.3,574.4 L953.4,585.5 L952.9,598.7 Z" fill="url(#rg8)" fill-opacity="0.80"/>
<path d="M1214.8,431.8 L1211.1,421.1 L1204.3,412.3 L1196.5,404.3 L1188.0,397.2 L1179.1,390.9 L1169.6,385.3 L1159.8,380.7 L1149.8,376.8 L1139.6,373.8 L1129.3,371.7 L1119.0,370.4 L1108.7,369.9 L1098.5,370.2 L1088.5,371.4 L1078.8,373.3 L1069.4,376.0 L1060.3,379.3 L1051.7,383.3 L1043.6,387.9 L1036.0,393.1 L1028.9,398.9 L1022.5,405.0 L1016.7,411.6 L1011.6,418.5 L1007.2,425.7 L1003.4,433.0 L1000.4,440.6 L998.2,448.2 L996.6,455.8 L995.8,463.3 L995.7,470.8 L996.3,478.0 L997.7,485.0 L999.7,491.7 L1002.6,498.1 L1006.4,503.9 L1013.5,509.2 L1013.5,509.2 L1016.2,504.6 L1016.4,500.0 L1016.4,495.3 L1016.5,490.5 L1016.8,485.6 L1017.3,480.6 L1018.2,475.4 L1019.4,470.2 L1020.9,465.0 L1022.8,459.7 L1025.2,454.4 L1027.9,449.2 L1031.1,444.0 L1034.7,439.0 L1038.7,434.0 L1043.2,429.3 L1048.1,424.7 L1053.5,420.4 L1059.3,416.4 L1065.6,412.8 L1072.2,409.4 L1079.2,406.5 L1086.7,404.1 L1094.4,402.1 L1102.5,400.7 L1110.9,399.8 L1119.5,399.5 L1128.3,399.8 L1137.3,400.7 L1146.5,402.3 L1155.8,404.6 L1165.1,407.6 L1174.5,411.4 L1183.9,415.8 L1193.3,420.9 L1202.9,426.6 L1214.8,431.8 Z" fill="url(#rg9)" fill-opacity="0.50"/>
<path d="M1003.3,375.1 L992.6,378.8 L983.8,385.6 L975.8,393.4 L968.7,401.9 L962.4,410.8 L956.8,420.3 L952.2,430.1 L948.3,440.1 L945.3,450.3 L943.2,460.6 L941.9,470.9 L941.4,481.2 L941.7,491.4 L942.9,501.4 L944.8,511.1 L947.5,520.5 L950.8,529.6 L954.8,538.2 L959.4,546.3 L964.6,553.9 L970.4,561.0 L976.5,567.4 L983.1,573.2 L990.0,578.3 L997.2,582.7 L1004.5,586.5 L1012.1,589.5 L1019.7,591.7 L1027.3,593.3 L1034.8,594.1 L1042.3,594.2 L1049.5,593.6 L1056.5,592.2 L1063.2,590.2 L1069.6,587.3 L1075.4,583.5 L1080.7,576.4 L1080.7,576.4 L1076.1,573.7 L1071.5,573.5 L1066.8,573.5 L1062.0,573.4 L1057.1,573.1 L1052.1,572.6 L1046.9,571.7 L1041.7,570.5 L1036.5,569.0 L1031.2,567.1 L1025.9,564.7 L1020.7,562.0 L1015.5,558.8 L1010.5,555.2 L1005.5,551.2 L1000.8,546.7 L996.2,541.8 L991.9,536.4 L987.9,530.6 L984.3,524.3 L980.9,517.7 L978.0,510.7 L975.6,503.2 L973.6,495.5 L972.2,487.4 L971.3,479.0 L971.0,470.4 L971.3,461.6 L972.2,452.6 L973.8,443.4 L976.1,434.1 L979.1,424.8 L982.9,415.4 L987.3,406.0 L992.4,396.6 L998.1,387.0 L1003.3,375.1 Z" fill="url(#rg10)" fill-opacity="0.50"/>
<path d="M946.6,586.6 L950.3,597.3 L957.1,606.1 L964.9,614.1 L973.4,621.2 L982.3,627.5 L991.8,633.1 L1001.6,637.7 L1011.6,641.6 L1021.8,644.6 L1032.1,646.7 L1042.4,648.0 L1052.7,648.5 L1062.9,648.2 L1072.9,647.0 L1082.6,645.1 L1092.0,642.4 L1101.1,639.1 L1109.7,635.1 L1117.8,630.5 L1125.4,625.3 L1132.5,619.5 L1138.9,613.4 L1144.7,606.8 L1149.8,599.9 L1154.2,592.7 L1158.0,585.4 L1161.0,577.8 L1163.2,570.2 L1164.8,562.6 L1165.6,555.1 L1165.7,547.6 L1165.1,540.4 L1163.7,533.4 L1161.7,526.7 L1158.8,520.3 L1155.0,514.5 L1147.9,509.2 L1147.9,509.2 L1145.2,513.8 L1145.0,518.4 L1145.0,523.1 L1144.9,527.9 L1144.6,532.8 L1144.1,537.8 L1143.2,543.0 L1142.0,548.2 L1140.5,553.4 L1138.6,558.7 L1136.2,564.0 L1133.5,569.2 L1130.3,574.4 L1126.7,579.4 L1122.7,584.4 L1118.2,589.1 L1113.3,593.7 L1107.9,598.0 L1102.1,602.0 L1095.8,605.6 L1089.2,609.0 L1082.2,611.9 L1074.7,614.3 L1067.0,616.3 L1058.9,617.7 L1050.5,618.6 L1041.9,618.9 L1033.1,618.6 L1024.1,617.7 L1014.9,616.1 L1005.6,613.8 L996.3,610.8 L986.9,607.0 L977.5,602.6 L968.1,597.5 L958.5,591.8 L946.6,586.6 Z" fill="url(#rg11)" fill-opacity="0.50"/>
<path d="M1158.1,643.3 L1168.8,639.6 L1177.6,632.8 L1185.6,625.0 L1192.7,616.5 L1199.0,607.6 L1204.6,598.1 L1209.2,588.3 L1213.1,578.3 L1216.1,568.1 L1218.2,557.8 L1219.5,547.5 L1220.0,537.2 L1219.7,527.0 L1218.5,517.0 L1216.6,507.3 L1213.9,497.9 L1210.6,488.8 L1206.6,480.2 L1202.0,472.1 L1196.8,464.5 L1191.0,457.4 L1184.9,451.0 L1178.3,445.2 L1171.4,440.1 L1164.2,435.7 L1156.9,431.9 L1149.3,428.9 L1141.7,426.7 L1134.1,425.1 L1126.6,424.3 L1119.1,424.2 L1111.9,424.8 L1104.9,426.2 L1098.2,428.2 L1091.8,431.1 L1086.0,434.9 L1080.7,442.0 L1080.7,442.0 L1085.3,444.7 L1089.9,444.9 L1094.6,444.9 L1099.4,445.0 L1104.3,445.3 L1109.3,445.8 L1114.5,446.7 L1119.7,447.9 L1124.9,449.4 L1130.2,451.3 L1135.5,453.7 L1140.7,456.4 L1145.9,459.6 L1150.9,463.2 L1155.9,467.2 L1160.6,471.7 L1165.2,476.6 L1169.5,482.0 L1173.5,487.8 L1177.1,494.1 L1180.5,500.7 L1183.4,507.7 L1185.8,515.2 L1187.8,522.9 L1189.2,531.0 L1190.1,539.4 L1190.4,548.0 L1190.1,556.8 L1189.2,565.8 L1187.6,575.0 L1185.3,584.3 L1182.3,593.6 L1178.5,603.0 L1174.1,612.4 L1169.0,621.8 L1163.3,631.4 L1158.1,643.3 Z" fill="url(#rg12)" fill-opacity="0.50"/>
<path d="M1103.6,401.6 L1111.6,401.3 L1119.7,401.9 L1127.9,403.3 L1136.0,405.3 L1143.9,408.0 L1151.8,411.4 L1159.3,415.5 L1166.6,420.2 L1173.5,425.6 L1180.0,431.6 L1186.1,438.1 L1191.5,445.2 L1196.4,452.8 L1200.6,460.7 L1204.2,469.1 L1207.0,477.7 L1209.1,486.6 L1210.5,495.6 L1211.0,504.6 L1210.8,513.7 L1209.8,522.8 L1208.1,531.7 L1205.6,540.3 L1202.4,548.7 L1198.5,556.8 L1194.0,564.5 L1188.9,571.7 L1183.2,578.4 L1177.1,584.5 L1170.5,590.1 L1163.6,595.0 L1156.3,599.4 L1148.9,603.0 L1141.2,606.0 L1133.4,608.3 L1125.4,609.7 L1125.4,609.7 L1131.6,604.8 L1137.3,599.9 L1142.8,594.6 L1147.8,589.1 L1152.4,583.4 L1156.6,577.5 L1160.4,571.4 L1163.7,565.2 L1166.7,558.9 L1169.3,552.4 L1171.4,545.8 L1173.2,539.2 L1174.5,532.6 L1175.5,525.9 L1176.1,519.2 L1176.3,512.5 L1176.2,505.9 L1175.7,499.2 L1174.8,492.6 L1173.6,486.0 L1171.9,479.6 L1170.0,473.1 L1167.6,466.8 L1164.9,460.6 L1161.8,454.5 L1158.3,448.5 L1154.5,442.7 L1150.3,437.1 L1145.7,431.7 L1140.7,426.6 L1135.4,421.7 L1129.7,417.1 L1123.6,412.7 L1117.3,408.7 L1110.6,405.1 L1103.6,401.6 Z" fill="url(#rg13)" fill-opacity="0.85"/>
<path d="M1087.1,582.9 L1082.2,593.5 L1076.0,598.7 L1069.3,602.3 L1062.1,604.6 L1054.8,606.0 L1047.3,606.3 L1039.8,605.7 L1032.3,604.1 L1025.1,601.7 L1018.2,598.4 L1011.7,594.4 L1005.7,589.6 L1000.3,584.2 L995.5,578.2 L991.5,571.7 L988.2,564.8 L985.8,557.6 L984.2,550.1 L983.6,542.6 L983.9,535.1 L985.3,527.8 L987.6,520.6 L991.2,513.9 L996.4,507.7 L1007.0,502.8 L1008.0,502.8 L1007.7,507.9 L1007.8,513.0 L1008.2,518.1 L1009.0,523.1 L1010.2,528.1 L1011.7,533.0 L1013.5,537.7 L1015.7,542.3 L1018.1,546.8 L1020.9,551.1 L1024.0,555.1 L1027.3,559.0 L1030.9,562.6 L1034.8,565.9 L1038.8,569.0 L1043.1,571.8 L1047.6,574.2 L1052.2,576.4 L1056.9,578.2 L1061.8,579.7 L1066.8,580.9 L1071.8,581.7 L1076.9,582.1 L1082.0,582.2 L1087.1,581.9 Z" fill="url(#rg14)" fill-opacity="0.85"/>
<path d="M985.3,458.5 L984.7,448.9 L985.2,439.2 L987.3,429.7 L991.2,421.3 L996.7,413.9 L1003.3,407.4 L1010.7,402.0 L1018.9,397.6 L1027.6,394.6 L1036.6,392.8 L1045.7,392.0 L1054.8,392.5 L1063.8,394.4 L1072.4,397.3 L1080.5,400.6 L1088.0,404.5 L1088.0,405.5 L1080.5,406.5 L1073.1,407.5 L1065.8,408.0 L1058.5,408.9 L1051.2,410.5 L1044.2,412.8 L1037.3,415.6 L1030.7,419.0 L1024.4,423.0 L1018.6,427.5 L1013.1,432.5 L1007.9,437.7 L1002.9,443.1 L998.0,448.5 L993.2,454.3 L988.9,460.4 Z" fill="url(#rg15)" fill-opacity="0.80"/>
<path d="M1036.2,432.1 L1041.0,427.3 L1046.2,422.8 L1051.9,418.5 L1058.0,414.3 L1064.4,409.9 L1071.3,406.3 L1078.7,404.4 L1086.3,405.1 L1093.5,408.1 L1100.1,412.2 L1106.4,416.4 L1112.4,420.1 L1118.3,423.8 L1123.8,427.7 L1128.9,432.0 L1128.9,432.0 L1122.0,431.0 L1115.3,430.6 L1108.7,430.5 L1102.5,430.3 L1096.6,430.0 L1090.8,429.6 L1085.0,429.3 L1079.2,429.2 L1073.4,429.4 L1067.6,429.7 L1061.8,430.1 L1055.7,430.5 L1049.4,430.8 L1042.9,431.2 L1036.2,432.1 Z" fill="url(#rg16)" fill-opacity="0.90"/>
<path d="M934.0,483.3 L936.1,473.2 L939.0,463.2 L942.5,453.4 L946.8,443.9 L951.7,434.7 L957.2,425.9 L963.3,417.5 L970.0,409.5 L977.2,402.0 L984.9,395.1 L993.1,388.7 L1001.7,382.8 L1010.7,377.6 L1020.1,373.1 L1029.7,369.2 L1039.6,366.0 L1049.7,363.5 L1060.0,361.7 L1070.3,360.6 L1080.7,360.2 L1080.7,361.2 L1070.6,364.5 L1060.8,367.7 L1051.4,371.2 L1042.2,375.1 L1033.5,379.4 L1025.0,384.0 L1016.8,389.0 L1008.9,394.3 L1001.3,399.9 L993.9,405.8 L986.8,412.0 L980.0,418.5 L973.4,425.4 L967.1,432.6 L961.1,440.1 L955.3,448.0 L949.9,456.3 L944.8,465.0 L940.0,474.1 L934.9,483.5 Z" fill="url(#rg17)" fill-opacity="0.95"/>
<path d="M1078.1,658.2 L1067.7,657.6 L1057.4,656.4 L1047.2,654.4 L1037.1,651.7 L1027.3,648.3 L1017.7,644.2 L1008.5,639.5 L999.5,634.2 L991.0,628.2 L982.9,621.7 L975.3,614.6 L968.2,607.0 L961.7,598.9 L955.7,590.4 L950.4,581.4 L945.7,572.2 L941.6,562.6 L938.2,552.8 L939.2,552.5 L947.6,560.3 L955.0,567.8 L962.3,574.8 L969.5,581.4 L976.7,587.6 L983.8,593.4 L990.8,599.1 L997.9,604.5 L1004.9,609.8 L1011.9,615.1 L1019.1,620.3 L1026.4,625.6 L1034.0,630.8 L1041.9,636.0 L1050.2,641.1 L1059.0,646.2 L1068.3,651.2 L1078.1,657.2 Z" fill="url(#rg18)" fill-opacity="0.95"/>
<path d="M1223.9,550.3 L1220.7,560.2 L1216.8,569.8 L1212.3,579.2 L1207.1,588.2 L1201.2,596.8 L1194.8,605.0 L1187.9,612.7 L1180.4,619.9 L1172.4,626.6 L1164.0,632.7 L1155.2,638.2 L1146.0,643.1 L1136.5,647.4 L1126.7,650.9 L1116.7,653.8 L1106.6,655.9 L1096.3,657.4 L1085.9,658.1 L1085.9,657.1 L1095.8,652.7 L1105.3,648.7 L1114.4,644.4 L1123.2,639.9 L1131.6,635.2 L1139.7,630.2 L1147.6,625.0 L1155.2,619.6 L1162.6,614.0 L1169.8,608.2 L1176.9,602.1 L1183.8,595.7 L1190.6,589.1 L1197.3,582.0 L1203.8,574.6 L1210.1,566.8 L1216.3,558.6 L1223.0,550.0 Z" fill="url(#rg19)" fill-opacity="0.95"/>
<path d="M1182.3,400.2 L1189.7,407.6 L1196.5,415.4 L1202.8,423.7 L1208.4,432.5 L1213.5,441.6 L1217.9,451.0 L1221.6,460.7 L1224.6,470.6 L1227.0,480.8 L1228.6,491.0 L1229.5,501.4 L1228.5,501.5 L1225.4,491.4 L1222.4,481.7 L1219.0,472.1 L1215.4,462.8 L1211.5,453.7 L1207.3,444.7 L1202.8,435.8 L1198.0,427.1 L1192.9,418.4 L1187.3,409.7 L1181.6,401.0 Z" fill="url(#rg20)" fill-opacity="0.95"/>
<path d="M1065.1,361.0 L1075.5,360.3 L1085.9,360.3 L1096.3,361.0 L1106.6,362.5 L1116.7,364.6 L1126.7,367.5 L1136.5,371.0 L1146.0,375.3 L1155.2,380.2 L1164.0,385.7 L1172.4,391.8 L1180.4,398.5 L1187.9,405.7 L1194.8,413.4 L1201.2,421.6 L1207.1,430.2 L1212.3,439.2 L1211.4,439.7 L1202.3,433.2 L1194.0,426.9 L1185.8,421.0 L1177.7,415.5 L1169.7,410.4 L1161.7,405.6 L1153.7,401.0 L1145.7,396.6 L1137.7,392.3 L1129.6,388.2 L1121.3,384.1 L1112.9,380.2 L1104.1,376.4 L1095.0,372.7 L1085.6,369.3 L1075.7,365.9 L1065.2,362.0 Z" fill="url(#rg21)" fill-opacity="0.90"/>
<path d="M1013.6,540.5 L1009.4,536.4 L1006.0,531.8 L1003.2,526.7 L1000.9,521.3 L999.1,515.7 L997.9,509.9 L997.3,503.9 L997.3,497.9 L997.9,491.9 L999.0,485.9 L1000.8,480.1 L1003.2,474.5 L1006.1,469.2 L1009.5,464.2 L1013.4,459.6 L1017.7,455.5 L1022.4,451.8 L1027.4,448.6 L1032.6,446.0 L1038.0,443.9 L1043.6,442.5 L1049.4,442.1 L1049.8,443.0 L1045.2,445.4 L1040.7,448.1 L1036.5,451.1 L1032.5,454.4 L1028.7,458.0 L1025.2,461.8 L1021.9,465.9 L1019.0,470.2 L1016.4,474.7 L1014.1,479.4 L1012.1,484.2 L1010.5,489.2 L1009.2,494.2 L1008.4,499.4 L1007.8,504.6 L1007.7,509.8 L1007.9,515.0 L1008.5,520.2 L1009.5,525.3 L1010.8,530.3 L1012.5,535.3 L1014.5,540.1 Z" fill="url(#rg22)" fill-opacity="0.95"/>
<path d="M1147.8,540.5 L1147.2,546.2 L1145.7,551.7 L1143.5,557.0 L1140.8,562.1 L1137.6,567.0 L1133.9,571.6 L1129.7,575.8 L1125.2,579.6 L1120.2,583.0 L1115.0,585.8 L1109.4,588.1 L1103.7,589.9 L1097.8,591.1 L1091.9,591.7 L1085.9,591.7 L1080.0,591.2 L1074.3,590.1 L1068.7,588.4 L1063.3,586.2 L1058.2,583.5 L1053.5,580.3 L1049.4,576.3 L1049.8,575.4 L1054.6,577.4 L1059.6,579.1 L1064.6,580.4 L1069.7,581.4 L1074.9,582.0 L1080.1,582.2 L1085.3,582.1 L1090.5,581.5 L1095.7,580.7 L1100.7,579.4 L1105.7,577.8 L1110.5,575.8 L1115.2,573.5 L1119.7,570.9 L1124.0,568.0 L1128.1,564.7 L1131.9,561.2 L1135.5,557.4 L1138.8,553.4 L1141.8,549.2 L1144.5,544.7 L1146.9,540.1 Z" fill="url(#rg23)" fill-opacity="0.95"/>
<path d="M1047.1,443.3 L1051.2,439.7 L1055.8,436.7 L1060.6,434.3 L1065.7,432.2 L1071.1,430.6 L1076.5,429.6 L1082.1,429.0 L1087.7,428.9 L1093.3,429.3 L1098.9,430.3 L1104.4,431.8 L1109.7,433.7 L1114.8,436.1 L1119.6,439.0 L1124.1,442.3 L1128.3,446.0 L1132.2,450.0 L1135.6,454.3 L1138.5,458.9 L1141.0,463.7 L1142.8,468.9 L1141.9,469.4 L1139.0,465.3 L1135.8,461.3 L1132.3,457.6 L1128.6,454.1 L1124.6,450.9 L1120.5,448.0 L1116.1,445.4 L1111.6,443.0 L1106.9,441.0 L1102.0,439.4 L1097.1,438.1 L1092.1,437.1 L1087.1,436.5 L1082.0,436.2 L1076.9,436.3 L1071.8,436.7 L1066.8,437.5 L1061.8,438.7 L1056.9,440.2 L1052.2,442.0 L1047.6,444.2 Z" fill="url(#rg24)" fill-opacity="0.95"/>
<path d="M1016.6,472.2 L1017.7,466.7 L1019.7,461.5 L1022.3,456.6 L1025.5,452.0 L1029.1,447.7 L1033.3,443.9 L1037.8,440.5 L1042.7,437.7 L1047.9,435.5 L1053.3,433.8 L1058.8,432.8 L1064.4,432.3 L1069.9,432.5 L1075.4,433.4 L1080.7,435.2 L1080.7,436.2 L1075.6,436.4 L1070.5,436.9 L1065.5,437.8 L1060.6,439.0 L1055.7,440.6 L1051.0,442.5 L1046.4,444.7 L1042.0,447.3 L1037.8,450.1 L1033.8,453.3 L1030.0,456.7 L1026.5,460.4 L1023.2,464.3 L1020.2,468.4 L1017.5,472.7 Z" fill="url(#rg25)" fill-opacity="0.95"/>
<path d="M1137.4,461.6 L1142.0,464.6 L1146.1,468.3 L1149.8,472.5 L1153.1,477.0 L1155.9,481.8 L1158.3,486.9 L1160.2,492.3 L1161.6,497.8 L1162.4,503.5 L1162.7,509.2 L1162.4,514.9 L1161.6,520.6 L1160.2,526.1 L1158.3,531.5 L1155.9,536.6 L1153.1,541.4 L1149.8,545.9 L1146.1,550.1 L1142.0,553.8 L1137.4,556.8 L1136.6,556.1 L1139.8,552.1 L1142.6,547.9 L1145.2,543.5 L1147.4,538.9 L1149.3,534.2 L1150.9,529.3 L1152.1,524.4 L1153.0,519.4 L1153.5,514.3 L1153.7,509.2 L1153.5,504.1 L1153.0,499.0 L1152.1,494.0 L1150.9,489.1 L1149.3,484.2 L1147.4,479.5 L1145.2,474.9 L1142.6,470.5 L1139.8,466.3 L1136.6,462.3 Z" fill="url(#rg26)" fill-opacity="0.90"/>
</g>
<defs><clipPath id="Rclip"><path clip-rule="evenodd" d="M1423.8,508.7 a145.0,145.0 0 1,0 290.0,0 a145.0,145.0 0 1,0 -290.0,0 Z M1495.6,508.7 a73.2,73.2 0 1,1 146.4,0 a73.2,73.2 0 1,1 -146.4,0 Z"/></clipPath>
<radialGradient id="rg27" gradientUnits="userSpaceOnUse" cx="1568.8" cy="508.7" r="155.8"><stop offset="0.401" stop-color="#a6dde8"/><stop offset="1" stop-color="#8fd6e0"/></radialGradient>
<radialGradient id="rg28" gradientUnits="userSpaceOnUse" cx="1568.8" cy="508.7" r="155.8"><stop offset="0.401" stop-color="#9ad8e6"/><stop offset="1" stop-color="#4aa8d0"/></radialGradient>
<radialGradient id="rg29" gradientUnits="userSpaceOnUse" cx="1568.8" cy="508.7" r="155.8"><stop offset="0.401" stop-color="#8fd3df"/><stop offset="1" stop-color="#a0dce6"/></radialGradient>
<radialGradient id="rg30" gradientUnits="userSpaceOnUse" cx="1568.8" cy="508.7" r="155.8"><stop offset="0.401" stop-color="#7fccd8"/><stop offset="1" stop-color="#a6dde8"/></radialGradient>
<radialGradient id="rg31" gradientUnits="userSpaceOnUse" cx="1568.8" cy="508.7" r="155.8"><stop offset="0.401" stop-color="#4fa8b8"/><stop offset="1" stop-color="#7fccd8"/></radialGradient>
<radialGradient id="rg32" gradientUnits="userSpaceOnUse" cx="1568.8" cy="508.7" r="155.8"><stop offset="0.401" stop-color="#a6dde8"/><stop offset="1" stop-color="#8fd6e0"/></radialGradient>
<radialGradient id="rg33" gradientUnits="userSpaceOnUse" cx="1568.8" cy="508.7" r="155.8"><stop offset="0.401" stop-color="#8fd3df"/><stop offset="1" stop-color="#9adbe4"/></radialGradient>
<radialGradient id="rg34" gradientUnits="userSpaceOnUse" cx="1568.8" cy="508.7" r="155.8"><stop offset="0.401" stop-color="#9adbe4"/><stop offset="1" stop-color="#7fccd8"/></radialGradient>
<radialGradient id="rg35" gradientUnits="userSpaceOnUse" cx="1568.8" cy="508.7" r="146.0"><stop offset="0.884" stop-color="#3a9fd0"/><stop offset="1" stop-color="#3a9fd0"/></radialGradient>
<radialGradient id="rg36" gradientUnits="userSpaceOnUse" cx="1568.8" cy="508.7" r="146.0"><stop offset="0.884" stop-color="#a6dde8"/><stop offset="1" stop-color="#a6dde8"/></radialGradient>
<radialGradient id="rg37" gradientUnits="userSpaceOnUse" cx="1568.8" cy="508.7" r="146.0"><stop offset="0.898" stop-color="#86d2dc"/><stop offset="1" stop-color="#86d2dc"/></radialGradient>
<radialGradient id="rg38" gradientUnits="userSpaceOnUse" cx="1568.8" cy="508.7" r="146.0"><stop offset="0.959" stop-color="#2a9dcc"/><stop offset="1" stop-color="#2a9dcc"/></radialGradient>
<radialGradient id="rg39" gradientUnits="userSpaceOnUse" cx="1568.8" cy="508.7" r="146.0"><stop offset="0.911" stop-color="#8fdce0"/><stop offset="1" stop-color="#8fdce0"/></radialGradient>
<radialGradient id="rg40" gradientUnits="userSpaceOnUse" cx="1568.8" cy="508.7" r="85.2"><stop offset="0.848" stop-color="#2a9fcc"/><stop offset="1" stop-color="#2a9fcc"/></radialGradient>
<radialGradient id="rg41" gradientUnits="userSpaceOnUse" cx="1568.8" cy="508.7" r="93.2"><stop offset="0.775" stop-color="#8fdcc8"/><stop offset="1" stop-color="#8fdcc8"/></radialGradient>
<radialGradient id="rg42" gradientUnits="userSpaceOnUse" cx="1568.8" cy="508.7" r="83.2"><stop offset="0.868" stop-color="#3fb0c0"/><stop offset="1" stop-color="#3fb0c0"/></radialGradient>
<clipPath id="Rz1"><path d="M1535.5,652.9 L1550.8,655.6 L1566.2,656.7 L1581.7,656.1 L1597.0,654.0 L1612.1,650.2 L1626.6,644.9 L1640.6,638.1 L1653.7,629.9 L1665.9,620.4 L1677.0,609.6 L1687.0,597.8 L1695.7,584.9 L1702.9,571.2 L1708.7,556.9 L1713.0,542.0 L1715.7,526.7 L1716.8,511.3 L1716.2,495.8 L1714.1,480.5 L1710.3,465.4 L1705.0,450.9 L1698.2,436.9 L1690.0,423.8 L1680.5,411.6 L1669.7,400.5 L1657.9,390.5 L1645.0,381.8 L1631.3,374.6 L1617.0,368.8 L1602.1,364.5 L1586.8,361.8 L1579.1,361.1 L1575.6,362.2 L1570.9,363.8 L1565.4,366.0 L1559.5,368.6 L1553.4,371.4 L1547.5,374.4 L1541.2,377.5 L1534.2,381.1 L1527.3,385.1 L1521.0,389.5 L1515.9,394.0 L1512.5,398.2 L1510.8,402.1 L1510.2,405.7 L1510.6,409.1 L1511.5,412.2 L1512.8,415.1 L1514.2,417.8 L1516.4,420.2 L1519.5,422.1 L1522.8,423.9 L1525.6,426.0 L1527.4,428.3 L1527.5,431.0 L1526.0,434.1 L1523.6,437.5 L1520.4,441.3 L1516.9,445.6 L1513.4,450.5 L1510.1,455.8 L1506.8,462.4 L1503.6,470.4 L1501.1,478.9 L1499.8,487.1 L1499.3,494.1 L1499.5,499.0 L1500.7,496.7 L1503.8,485.0 L1508.9,474.1 L1515.8,464.2 L1524.3,455.7 L1534.2,448.8 L1545.1,443.7 L1556.8,440.6 L1568.8,439.5 L1580.8,440.6 L1592.5,443.7 L1603.4,448.8 L1613.3,455.7 L1621.8,464.2 L1628.7,474.1 L1633.8,485.0 L1636.9,496.7 L1638.0,508.7 L1636.9,520.7 L1633.8,532.4 L1628.7,543.3 L1621.8,553.2 L1613.3,561.7 L1603.4,568.6 L1592.5,573.7 L1580.8,576.8 L1568.8,577.9 L1556.8,576.8 L1545.1,573.7 L1534.2,568.6 L1531.7,568.1 L1532.7,569.9 L1534.1,572.3 L1536.0,575.2 L1538.3,578.4 L1541.0,581.6 L1544.1,584.8 L1547.6,587.9 L1551.8,591.1 L1556.6,594.1 L1561.7,597.0 L1566.9,599.5 L1572.0,601.6 L1576.9,603.5 L1581.7,605.1 L1586.5,606.5 L1591.3,607.7 L1596.3,608.7 L1601.6,609.5 L1607.6,610.0 L1614.5,609.9 L1621.5,609.5 L1628.0,608.9 L1633.2,608.5 L1636.5,609.0 L1637.3,610.7 L1636.3,613.4 L1633.7,616.8 L1630.1,620.4 L1625.9,624.1 L1621.7,627.5 L1617.4,630.5 L1612.4,633.3 L1606.9,635.9 L1601.0,638.4 L1594.6,640.9 L1587.7,643.4 L1579.7,646.1 L1570.2,648.7 L1560.1,650.8 L1550.2,652.2 L1541.7,652.8 L1535.5,652.9 Z"/></clipPath>
<radialGradient id="rg43" gradientUnits="userSpaceOnUse" cx="1568.8" cy="508.7" r="156.5"><stop offset="0.394" stop-color="#a8489c"/><stop offset="1" stop-color="#b04a9c"/></radialGradient>
<radialGradient id="rg44" gradientUnits="userSpaceOnUse" cx="1568.8" cy="508.7" r="156.5"><stop offset="0.394" stop-color="#93409b"/><stop offset="1" stop-color="#a566b0"/></radialGradient>
<radialGradient id="rg45" gradientUnits="userSpaceOnUse" cx="1568.8" cy="508.7" r="156.5"><stop offset="0.394" stop-color="#93409b"/><stop offset="1" stop-color="#b84a9a"/></radialGradient>
<radialGradient id="rg46" gradientUnits="userSpaceOnUse" cx="1568.8" cy="508.7" r="156.5"><stop offset="0.394" stop-color="#9a55a8"/><stop offset="1" stop-color="#8e3f9a"/></radialGradient>
<radialGradient id="rg47" gradientUnits="userSpaceOnUse" cx="1568.8" cy="508.7" r="156.5"><stop offset="0.394" stop-color="#93409b"/><stop offset="1" stop-color="#a878b8"/></radialGradient>
<radialGradient id="rg48" gradientUnits="userSpaceOnUse" cx="1568.8" cy="508.7" r="156.5"><stop offset="0.394" stop-color="#a04aa0"/><stop offset="1" stop-color="#93409b"/></radialGradient>
<radialGradient id="rg49" gradientUnits="userSpaceOnUse" cx="1568.8" cy="508.7" r="156.5"><stop offset="0.394" stop-color="#93409b"/><stop offset="1" stop-color="#a566b0"/></radialGradient>
<radialGradient id="rg50" gradientUnits="userSpaceOnUse" cx="1568.8" cy="508.7" r="156.5"><stop offset="0.394" stop-color="#a8489c"/><stop offset="1" stop-color="#b04a9c"/></radialGradient>
<radialGradient id="rg51" gradientUnits="userSpaceOnUse" cx="1568.8" cy="508.7" r="156.5"><stop offset="0.394" stop-color="#93409b"/><stop offset="1" stop-color="#a878b8"/></radialGradient>
<radialGradient id="rg52" gradientUnits="userSpaceOnUse" cx="1568.8" cy="508.7" r="146.0"><stop offset="0.884" stop-color="#a566b0"/><stop offset="1" stop-color="#a566b0"/></radialGradient>
<radialGradient id="rg53" gradientUnits="userSpaceOnUse" cx="1568.8" cy="508.7" r="146.0"><stop offset="0.870" stop-color="#5a2877"/><stop offset="1" stop-color="#5a2877"/></radialGradient>
<radialGradient id="rg54" gradientUnits="userSpaceOnUse" cx="1568.8" cy="508.7" r="146.0"><stop offset="0.897" stop-color="#8e3f9a"/><stop offset="1" stop-color="#8e3f9a"/></radialGradient>
<radialGradient id="rg55" gradientUnits="userSpaceOnUse" cx="1568.8" cy="508.7" r="93.2"><stop offset="0.775" stop-color="#5a2877"/><stop offset="1" stop-color="#5a2877"/></radialGradient>
<radialGradient id="rg56" gradientUnits="userSpaceOnUse" cx="1568.8" cy="508.7" r="91.1"><stop offset="0.792" stop-color="#a97fb8"/><stop offset="1" stop-color="#a97fb8"/></radialGradient>
<radialGradient id="rg57" gradientUnits="userSpaceOnUse" cx="1568.8" cy="508.7" r="85.1"><stop offset="0.848" stop-color="#5a2877"/><stop offset="1" stop-color="#5a2877"/></radialGradient>
<radialGradient id="rg58" gradientUnits="userSpaceOnUse" cx="1568.8" cy="508.7" r="91.1"><stop offset="0.792" stop-color="#b84a9a"/><stop offset="1" stop-color="#b84a9a"/></radialGradient>
<radialGradient id="rg59" gradientUnits="userSpaceOnUse" cx="1568.8" cy="508.7" r="85.2"><stop offset="0.847" stop-color="#93409b"/><stop offset="1" stop-color="#93409b"/></radialGradient>
<radialGradient id="rg60" gradientUnits="userSpaceOnUse" cx="1568.8" cy="508.7" r="82.2"><stop offset="0.878" stop-color="#a97fb8"/><stop offset="1" stop-color="#a97fb8"/></radialGradient>
<radialGradient id="rg61" gradientUnits="userSpaceOnUse" cx="1568.8" cy="508.7" r="139.0"><stop offset="0.698" stop-color="#a8489c"/><stop offset="1" stop-color="#b24a9e"/></radialGradient>
<radialGradient id="rg62" gradientUnits="userSpaceOnUse" cx="1568.8" cy="508.7" r="129.1"><stop offset="0.757" stop-color="#b04a9c"/><stop offset="1" stop-color="#b84a9a"/></radialGradient>
<radialGradient id="rg63" gradientUnits="userSpaceOnUse" cx="1568.8" cy="508.7" r="128.4"><stop offset="0.748" stop-color="#a078b4"/><stop offset="1" stop-color="#a97fb8"/></radialGradient>
<radialGradient id="rg64" gradientUnits="userSpaceOnUse" cx="1568.8" cy="508.7" r="106.1"><stop offset="0.735" stop-color="#8a3a98"/><stop offset="1" stop-color="#93409b"/></radialGradient>
<radialGradient id="rg65" gradientUnits="userSpaceOnUse" cx="1568.8" cy="508.7" r="142.0"><stop offset="0.610" stop-color="#55a8b8"/><stop offset="0.805" stop-color="#a6dce6"/><stop offset="1" stop-color="#4aa4b4"/></radialGradient></defs>
<g clip-path="url(#Rclip)">
<rect x="1421.8" y="361.7" width="294.0" height="294.0" fill="#8fd3df"/>
<path d="M1645.1,640.9 L1637.0,648.8 L1626.9,653.2 L1616.3,656.3 L1605.5,658.4 L1594.7,659.5 L1583.8,659.7 L1573.1,659.0 L1562.5,657.4 L1552.2,655.0 L1542.2,651.8 L1532.6,647.8 L1523.4,643.2 L1514.8,637.8 L1506.7,631.9 L1499.2,625.4 L1492.3,618.5 L1486.2,611.1 L1480.7,603.3 L1475.9,595.2 L1471.9,586.9 L1468.7,578.4 L1466.2,569.9 L1464.5,561.3 L1463.5,552.7 L1463.3,544.3 L1463.8,536.0 L1465.0,528.0 L1466.9,520.3 L1469.4,512.9 L1472.6,506.0 L1476.3,499.5 L1480.5,493.6 L1485.3,488.2 L1490.6,483.5 L1496.3,479.6 L1502.7,476.5 L1512.0,475.9 L1512.0,475.9 L1512.7,481.4 L1510.8,485.4 L1508.7,489.4 L1506.6,493.4 L1504.6,497.7 L1502.7,502.1 L1501.0,506.8 L1499.5,511.6 L1498.3,516.7 L1497.4,522.0 L1496.8,527.5 L1496.5,533.1 L1496.6,538.9 L1497.2,544.8 L1498.1,550.9 L1499.5,557.0 L1501.4,563.1 L1503.7,569.3 L1506.6,575.5 L1509.9,581.6 L1513.8,587.6 L1518.2,593.5 L1523.2,599.2 L1528.6,604.7 L1534.6,609.9 L1541.2,614.9 L1548.2,619.4 L1555.7,623.6 L1563.8,627.3 L1572.3,630.6 L1581.2,633.3 L1590.5,635.5 L1600.3,637.1 L1610.5,638.2 L1621.0,638.7 L1632.1,638.8 L1645.1,640.9 Z" fill="url(#rg27)" fill-opacity="0.85"/>
<path d="M1547.6,659.8 L1536.3,661.0 L1525.6,658.3 L1515.3,654.3 L1505.6,649.3 L1496.3,643.5 L1487.7,636.9 L1479.6,629.8 L1472.3,622.0 L1465.6,613.7 L1459.7,605.1 L1454.6,596.0 L1450.3,586.7 L1446.7,577.2 L1444.0,567.5 L1442.1,557.8 L1441.0,548.1 L1440.7,538.5 L1441.1,529.0 L1442.4,519.7 L1444.3,510.7 L1447.0,502.0 L1450.3,493.8 L1454.2,485.9 L1458.7,478.6 L1463.7,471.8 L1469.2,465.6 L1475.1,460.0 L1481.4,455.1 L1487.9,450.8 L1494.6,447.3 L1501.6,444.5 L1508.6,442.4 L1515.6,441.2 L1522.6,440.7 L1529.6,441.1 L1536.5,442.7 L1544.2,447.9 L1544.2,447.9 L1541.4,452.6 L1537.5,454.6 L1533.4,456.5 L1529.2,458.4 L1525.0,460.5 L1520.7,462.8 L1516.5,465.4 L1512.4,468.4 L1508.3,471.6 L1504.3,475.2 L1500.5,479.1 L1496.8,483.4 L1493.4,488.1 L1490.1,493.1 L1487.2,498.4 L1484.5,504.1 L1482.2,510.1 L1480.2,516.4 L1478.6,523.0 L1477.5,529.9 L1476.9,537.0 L1476.7,544.4 L1477.1,551.9 L1478.0,559.6 L1479.5,567.4 L1481.7,575.3 L1484.4,583.3 L1487.8,591.2 L1491.8,599.1 L1496.5,606.9 L1501.8,614.5 L1507.9,622.0 L1514.6,629.3 L1521.9,636.4 L1529.9,643.3 L1538.6,650.2 L1547.6,659.8 Z" fill="url(#rg28)" fill-opacity="0.85"/>
<path d="M1455.4,610.8 L1446.0,604.5 L1439.5,595.5 L1434.3,585.9 L1430.0,575.8 L1426.6,565.4 L1424.2,554.8 L1422.7,544.1 L1422.0,533.4 L1422.2,522.8 L1423.3,512.4 L1425.2,502.2 L1427.8,492.3 L1431.2,482.7 L1435.4,473.6 L1440.2,464.9 L1445.5,456.7 L1451.5,449.1 L1458.0,442.2 L1464.9,435.9 L1472.2,430.2 L1479.8,425.3 L1487.6,421.1 L1495.7,417.6 L1503.8,414.9 L1512.0,412.9 L1520.2,411.7 L1528.3,411.2 L1536.3,411.4 L1544.0,412.4 L1551.5,414.0 L1558.6,416.3 L1565.3,419.2 L1571.5,422.8 L1577.2,426.9 L1582.2,431.7 L1586.5,437.4 L1589.1,446.3 L1589.1,446.3 L1583.8,448.1 L1579.5,447.1 L1575.2,445.9 L1570.8,444.7 L1566.2,443.6 L1561.5,442.7 L1556.6,442.0 L1551.5,441.5 L1546.3,441.4 L1540.9,441.6 L1535.5,442.1 L1529.9,443.1 L1524.3,444.4 L1518.6,446.1 L1512.9,448.3 L1507.2,451.0 L1501.5,454.1 L1496.0,457.7 L1490.5,461.7 L1485.2,466.3 L1480.2,471.3 L1475.3,476.9 L1470.8,482.9 L1466.5,489.4 L1462.7,496.3 L1459.2,503.7 L1456.2,511.6 L1453.7,519.8 L1451.7,528.4 L1450.3,537.4 L1449.5,546.7 L1449.3,556.3 L1449.7,566.2 L1450.8,576.4 L1452.5,586.8 L1454.7,597.7 L1455.4,610.8 Z" fill="url(#rg29)" fill-opacity="0.85"/>
<path d="M1416.3,514.0 L1413.1,503.1 L1414.0,492.1 L1416.1,481.3 L1419.4,470.8 L1423.5,460.7 L1428.4,451.1 L1434.1,441.9 L1440.5,433.3 L1447.4,425.3 L1455.0,418.0 L1463.0,411.4 L1471.4,405.5 L1480.1,400.4 L1489.2,396.0 L1498.4,392.4 L1507.8,389.7 L1517.2,387.7 L1526.7,386.5 L1536.0,386.1 L1545.2,386.5 L1554.2,387.6 L1562.9,389.4 L1571.3,391.9 L1579.3,395.1 L1586.9,398.8 L1594.0,403.2 L1600.5,408.0 L1606.4,413.3 L1611.7,419.0 L1616.4,425.0 L1620.4,431.3 L1623.6,437.9 L1626.1,444.6 L1627.8,451.4 L1628.5,458.4 L1628.2,465.5 L1624.4,473.9 L1624.4,473.9 L1619.3,472.0 L1616.6,468.4 L1614.1,464.7 L1611.5,460.9 L1608.7,457.2 L1605.6,453.4 L1602.3,449.7 L1598.7,446.1 L1594.8,442.7 L1590.6,439.4 L1586.1,436.3 L1581.2,433.4 L1576.0,430.8 L1570.5,428.5 L1564.8,426.5 L1558.7,424.9 L1552.4,423.6 L1545.8,422.8 L1539.0,422.4 L1532.1,422.5 L1524.9,423.1 L1517.7,424.2 L1510.3,425.9 L1502.9,428.2 L1495.5,431.0 L1488.0,434.5 L1480.7,438.5 L1473.5,443.2 L1466.4,448.6 L1459.6,454.5 L1453.0,461.1 L1446.6,468.4 L1440.6,476.2 L1434.9,484.7 L1429.5,493.8 L1424.2,503.5 L1416.3,514.0 Z" fill="url(#rg30)" fill-opacity="0.85"/>
<path d="M1448.5,414.8 L1453.1,404.4 L1460.8,396.5 L1469.5,389.6 L1478.7,383.6 L1488.3,378.5 L1498.3,374.3 L1508.6,370.9 L1518.9,368.4 L1529.4,366.8 L1539.9,366.1 L1550.3,366.1 L1560.5,367.0 L1570.5,368.7 L1580.2,371.2 L1589.6,374.4 L1598.6,378.3 L1607.1,382.8 L1615.1,388.0 L1622.5,393.7 L1629.3,399.9 L1635.5,406.5 L1641.0,413.5 L1645.8,420.9 L1649.9,428.4 L1653.3,436.2 L1655.9,444.0 L1657.8,451.9 L1658.9,459.8 L1659.4,467.6 L1659.1,475.2 L1658.0,482.6 L1656.3,489.7 L1653.9,496.4 L1650.8,502.7 L1646.9,508.6 L1642.1,513.8 L1633.8,517.8 L1633.8,517.8 L1631.1,513.0 L1631.3,508.6 L1631.8,504.1 L1632.2,499.5 L1632.5,494.9 L1632.6,490.0 L1632.4,485.1 L1631.9,480.0 L1631.2,474.9 L1630.0,469.6 L1628.6,464.3 L1626.7,459.0 L1624.4,453.7 L1621.7,448.4 L1618.5,443.1 L1615.0,438.0 L1610.9,433.0 L1606.4,428.1 L1601.5,423.5 L1596.1,419.1 L1590.2,414.9 L1583.9,411.1 L1577.2,407.7 L1570.1,404.6 L1562.6,402.0 L1554.7,399.9 L1546.4,398.3 L1537.9,397.3 L1529.0,396.8 L1519.9,397.0 L1510.6,397.8 L1501.1,399.3 L1491.5,401.4 L1481.7,404.3 L1471.7,407.7 L1461.3,411.8 L1448.5,414.8 Z" fill="url(#rg31)" fill-opacity="0.85"/>
<path d="M1521.6,363.6 L1531.3,357.5 L1542.1,355.3 L1553.0,354.4 L1564.0,354.6 L1574.9,355.8 L1585.5,357.9 L1595.9,360.8 L1605.9,364.5 L1615.5,369.1 L1624.6,374.3 L1633.2,380.1 L1641.1,386.6 L1648.5,393.6 L1655.2,401.1 L1661.2,409.0 L1666.4,417.2 L1670.9,425.8 L1674.7,434.5 L1677.6,443.4 L1679.8,452.3 L1681.2,461.3 L1681.9,470.2 L1681.8,478.9 L1680.9,487.5 L1679.4,495.8 L1677.2,503.8 L1674.3,511.4 L1670.9,518.6 L1666.9,525.2 L1662.4,531.4 L1657.4,536.9 L1652.0,541.9 L1646.2,546.1 L1640.1,549.6 L1633.6,552.3 L1626.7,553.9 L1617.6,552.6 L1617.6,552.6 L1618.0,547.1 L1620.7,543.5 L1623.5,540.1 L1626.5,536.6 L1629.3,532.8 L1632.1,528.9 L1634.7,524.7 L1637.2,520.2 L1639.4,515.5 L1641.4,510.6 L1643.2,505.3 L1644.6,499.9 L1645.7,494.2 L1646.4,488.3 L1646.7,482.2 L1646.6,475.9 L1646.1,469.5 L1645.1,462.9 L1643.6,456.3 L1641.5,449.6 L1639.0,442.9 L1635.9,436.3 L1632.3,429.6 L1628.1,423.1 L1623.3,416.8 L1617.9,410.6 L1612.0,404.7 L1605.5,399.0 L1598.4,393.7 L1590.8,388.8 L1582.6,384.2 L1573.9,380.2 L1564.7,376.5 L1555.0,373.4 L1544.7,370.7 L1533.9,368.3 L1521.6,363.6 Z" fill="url(#rg32)" fill-opacity="0.85"/>
<path d="M1621.0,365.3 L1632.3,366.4 L1642.2,371.4 L1651.4,377.4 L1659.9,384.3 L1667.7,391.9 L1674.8,400.1 L1681.2,408.8 L1686.8,417.9 L1691.6,427.4 L1695.5,437.1 L1698.7,447.0 L1701.0,457.0 L1702.5,467.1 L1703.1,477.1 L1703.0,487.0 L1702.0,496.7 L1700.3,506.2 L1697.9,515.4 L1694.8,524.2 L1691.0,532.6 L1686.6,540.6 L1681.6,548.0 L1676.1,554.8 L1670.2,561.0 L1663.9,566.6 L1657.2,571.6 L1650.3,575.8 L1643.2,579.3 L1635.9,582.1 L1628.6,584.2 L1621.2,585.5 L1613.9,586.0 L1606.8,585.8 L1599.8,584.8 L1593.1,582.9 L1586.6,580.0 L1580.2,573.3 L1580.2,573.3 L1584.0,569.2 L1588.2,568.1 L1592.6,567.2 L1597.1,566.2 L1601.6,565.0 L1606.3,563.6 L1610.9,561.9 L1615.6,559.9 L1620.3,557.6 L1624.9,554.9 L1629.5,551.8 L1633.9,548.4 L1638.3,544.6 L1642.5,540.4 L1646.5,535.7 L1650.3,530.7 L1653.8,525.4 L1657.1,519.6 L1660.0,513.4 L1662.5,506.9 L1664.6,500.1 L1666.3,492.9 L1667.5,485.5 L1668.2,477.8 L1668.3,469.8 L1667.9,461.6 L1666.9,453.3 L1665.2,444.9 L1662.9,436.3 L1659.9,427.7 L1656.3,419.1 L1652.0,410.5 L1646.9,402.0 L1641.2,393.6 L1634.8,385.1 L1627.8,376.6 L1621.0,365.3 Z" fill="url(#rg33)" fill-opacity="0.85"/>
<path d="M1701.0,432.4 L1708.9,440.5 L1713.3,450.6 L1716.4,461.2 L1718.5,472.0 L1719.6,482.8 L1719.8,493.7 L1719.1,504.4 L1717.5,515.0 L1715.1,525.3 L1711.9,535.3 L1707.9,544.9 L1703.3,554.1 L1697.9,562.7 L1692.0,570.8 L1685.5,578.3 L1678.6,585.2 L1671.2,591.3 L1663.4,596.8 L1655.3,601.6 L1647.0,605.6 L1638.5,608.8 L1630.0,611.3 L1621.4,613.0 L1612.8,614.0 L1604.4,614.2 L1596.1,613.7 L1588.1,612.5 L1580.4,610.6 L1573.0,608.1 L1566.1,604.9 L1559.6,601.2 L1553.7,597.0 L1548.3,592.2 L1543.6,586.9 L1539.7,581.2 L1536.6,574.8 L1536.0,565.5 L1536.0,565.5 L1541.5,564.8 L1545.5,566.7 L1549.5,568.8 L1553.5,570.9 L1557.8,572.9 L1562.2,574.8 L1566.9,576.5 L1571.7,578.0 L1576.8,579.2 L1582.1,580.1 L1587.6,580.7 L1593.2,581.0 L1599.0,580.9 L1604.9,580.3 L1611.0,579.4 L1617.1,578.0 L1623.2,576.1 L1629.4,573.8 L1635.6,570.9 L1641.7,567.6 L1647.7,563.7 L1653.6,559.3 L1659.3,554.3 L1664.8,548.9 L1670.0,542.9 L1675.0,536.3 L1679.5,529.3 L1683.7,521.8 L1687.4,513.7 L1690.7,505.2 L1693.4,496.3 L1695.6,487.0 L1697.2,477.2 L1698.3,467.0 L1698.8,456.5 L1698.9,445.4 L1701.0,432.4 Z" fill="url(#rg34)" fill-opacity="0.85"/>
<path d="M1558.6,654.3 L1548.5,653.3 L1538.4,651.5 L1528.6,649.0 L1518.9,645.9 L1509.4,642.1 L1500.3,637.6 L1491.4,632.5 L1483.0,626.8 L1475.0,620.5 L1467.4,613.7 L1460.3,606.4 L1453.8,598.6 L1447.8,590.3 L1442.4,581.7 L1437.6,572.7 L1433.4,563.4 L1429.9,553.8 L1430.9,553.5 L1438.2,561.5 L1444.8,569.2 L1451.5,576.4 L1458.3,583.3 L1465.1,589.7 L1471.9,595.9 L1478.8,601.8 L1485.8,607.6 L1492.9,613.1 L1500.2,618.5 L1507.6,623.8 L1515.3,629.0 L1523.2,634.0 L1531.5,638.9 L1540.1,643.6 L1549.2,648.2 L1558.7,653.3 Z" fill="url(#rg35)" fill-opacity="0.95"/>
<path d="M1447.8,590.3 L1442.4,581.7 L1437.6,572.7 L1433.4,563.4 L1429.9,553.8 L1427.1,544.0 L1425.0,534.1 L1423.6,524.0 L1422.9,513.8 L1422.9,503.6 L1423.6,493.4 L1425.0,483.3 L1427.1,473.4 L1429.9,463.6 L1433.4,454.0 L1437.6,444.7 L1442.4,435.7 L1447.8,427.1 L1448.6,427.6 L1446.8,438.3 L1444.8,448.2 L1443.2,458.0 L1442.0,467.5 L1441.1,476.9 L1440.4,486.1 L1440.0,495.2 L1439.8,504.2 L1439.8,513.2 L1440.0,522.2 L1440.4,531.3 L1441.1,540.5 L1442.0,549.9 L1443.2,559.4 L1444.8,569.2 L1446.8,579.1 L1448.6,589.8 Z" fill="url(#rg36)" fill-opacity="0.95"/>
<path d="M1429.9,463.6 L1433.4,454.0 L1437.6,444.7 L1442.4,435.7 L1447.8,427.1 L1453.8,418.8 L1460.3,411.0 L1467.4,403.7 L1475.0,396.9 L1483.0,390.6 L1491.4,384.9 L1500.3,379.8 L1509.4,375.3 L1518.9,371.5 L1528.6,368.4 L1538.4,365.9 L1548.5,364.1 L1558.6,363.1 L1558.7,364.1 L1549.1,368.7 L1539.9,372.9 L1531.1,377.4 L1522.7,382.0 L1514.6,386.9 L1506.7,392.0 L1499.2,397.2 L1491.8,402.7 L1484.6,408.3 L1477.5,414.2 L1470.6,420.2 L1463.7,426.6 L1457.1,433.3 L1450.5,440.4 L1444.0,447.9 L1437.7,455.7 L1430.9,463.9 Z" fill="url(#rg37)" fill-opacity="0.95"/>
<path d="M1463.8,407.3 L1471.1,400.2 L1478.9,393.7 L1487.2,387.7 L1495.8,382.3 L1504.8,377.5 L1514.1,373.3 L1523.7,369.8 L1533.5,367.0 L1543.4,364.9 L1553.5,363.5 L1563.7,362.8 L1573.9,362.8 L1573.9,363.8 L1563.8,365.5 L1553.9,367.4 L1544.3,369.6 L1534.8,372.3 L1525.5,375.4 L1516.4,378.9 L1507.4,382.7 L1498.5,387.0 L1489.8,391.6 L1481.3,396.7 L1472.9,402.2 L1464.5,408.0 Z" fill="url(#rg38)" fill-opacity="0.95"/>
<path d="M1672.0,611.9 L1664.6,618.9 L1656.7,625.3 L1648.3,631.1 L1639.6,636.4 L1630.5,641.0 L1621.1,645.0 L1611.5,648.3 L1601.6,651.0 L1591.6,652.9 L1581.5,654.1 L1571.3,654.7 L1561.2,654.5 L1551.0,653.6 L1540.9,652.0 L1531.0,649.7 L1531.3,648.8 L1541.8,647.7 L1551.8,646.8 L1561.6,645.7 L1571.2,644.2 L1580.5,642.5 L1589.7,640.5 L1598.7,638.3 L1607.7,635.9 L1616.6,633.3 L1625.6,630.4 L1634.5,627.2 L1643.5,623.7 L1652.5,619.8 L1661.7,615.6 L1671.3,611.2 Z" fill="url(#rg39)" fill-opacity="0.95"/>
<path d="M1554.8,580.6 L1549.1,582.4 L1543.2,582.9 L1537.4,582.7 L1531.6,581.7 L1525.9,580.0 L1520.5,577.7 L1515.4,574.6 L1510.7,571.0 L1506.5,566.8 L1502.9,562.1 L1499.8,557.0 L1497.5,551.6 L1495.8,545.9 L1494.8,540.1 L1494.6,534.3 L1495.1,528.4 L1496.9,522.7 L1497.9,522.5 L1499.1,527.4 L1500.5,532.2 L1502.3,536.9 L1504.5,541.5 L1506.9,545.9 L1509.7,550.1 L1512.7,554.1 L1516.0,557.9 L1519.6,561.5 L1523.4,564.8 L1527.4,567.8 L1531.6,570.6 L1536.0,573.0 L1540.6,575.2 L1545.3,577.0 L1550.1,578.4 L1555.0,579.6 Z" fill="url(#rg40)" fill-opacity="0.95"/>
<path d="M1515.3,558.6 L1507.2,558.5 L1500.4,556.6 L1494.3,553.5 L1488.9,549.4 L1484.5,544.5 L1481.1,538.9 L1478.8,532.8 L1477.7,526.4 L1477.9,519.9 L1479.3,513.4 L1481.9,507.2 L1485.7,501.4 L1490.6,496.3 L1497.5,492.2 L1498.5,492.5 L1497.5,497.4 L1496.9,502.4 L1496.6,507.4 L1496.7,512.5 L1497.1,517.5 L1497.9,522.5 L1499.1,527.4 L1500.5,532.2 L1502.3,536.9 L1504.5,541.5 L1506.9,545.9 L1509.7,550.1 L1512.7,554.1 L1516.0,557.9 Z" fill="url(#rg41)" fill-opacity="0.95"/>
<path d="M1496.7,521.4 L1492.6,516.5 L1489.9,511.0 L1488.1,505.2 L1487.2,499.2 L1487.4,493.1 L1488.4,487.2 L1490.5,481.5 L1493.4,476.2 L1497.1,471.4 L1501.6,467.3 L1506.7,463.9 L1512.7,461.6 L1513.5,462.3 L1510.3,466.4 L1507.3,470.8 L1504.8,475.4 L1502.5,480.1 L1500.6,485.0 L1499.1,490.0 L1497.9,495.1 L1497.1,500.3 L1496.7,505.6 L1496.6,510.8 L1497.0,516.0 L1497.7,521.2 Z" fill="url(#rg42)" fill-opacity="0.95"/>
<g clip-path="url(#Rz1)">
<rect x="1421.8" y="361.7" width="294.0" height="294.0" fill="#93409b"/>
<path d="M1451.6,410.4 L1456.4,399.9 L1464.3,392.2 L1473.2,385.6 L1482.6,379.8 L1492.4,375.0 L1502.6,371.1 L1513.0,368.0 L1523.6,365.8 L1534.2,364.5 L1544.7,364.1 L1555.2,364.5 L1565.4,365.8 L1575.5,367.8 L1585.2,370.6 L1594.5,374.2 L1603.4,378.4 L1611.8,383.3 L1619.6,388.8 L1626.9,394.8 L1633.6,401.3 L1639.6,408.2 L1644.8,415.4 L1649.4,423.0 L1653.3,430.7 L1656.4,438.7 L1658.7,446.7 L1660.3,454.7 L1661.2,462.7 L1661.3,470.5 L1660.6,478.2 L1659.3,485.6 L1657.3,492.7 L1654.5,499.4 L1651.1,505.6 L1646.9,511.3 L1641.8,516.3 L1633.0,520.0 L1633.0,520.0 L1630.2,515.1 L1630.5,510.7 L1631.0,506.4 L1631.6,501.9 L1632.0,497.2 L1632.2,492.5 L1632.2,487.6 L1632.0,482.6 L1631.4,477.5 L1630.5,472.3 L1629.2,467.0 L1627.5,461.7 L1625.5,456.4 L1623.0,451.0 L1620.1,445.7 L1616.8,440.5 L1613.0,435.4 L1608.8,430.4 L1604.0,425.6 L1598.9,421.0 L1593.2,416.6 L1587.2,412.6 L1580.6,408.9 L1573.7,405.6 L1566.3,402.7 L1558.5,400.2 L1550.4,398.3 L1541.9,396.9 L1533.1,396.0 L1524.1,395.8 L1514.7,396.2 L1505.2,397.3 L1495.4,399.0 L1485.5,401.4 L1475.3,404.5 L1464.7,408.0 L1451.6,410.4 Z" fill="url(#rg43)" fill-opacity="0.88"/>
<path d="M1542.2,358.0 L1552.6,353.1 L1563.6,352.3 L1574.7,352.9 L1585.6,354.6 L1596.3,357.2 L1606.6,360.7 L1616.5,365.1 L1626.0,370.2 L1634.9,376.0 L1643.3,382.4 L1651.0,389.5 L1658.1,397.0 L1664.5,405.0 L1670.1,413.4 L1675.0,422.2 L1679.0,431.1 L1682.3,440.3 L1684.9,449.5 L1686.6,458.8 L1687.5,468.0 L1687.6,477.2 L1687.0,486.1 L1685.7,494.9 L1683.6,503.3 L1680.9,511.3 L1677.6,519.0 L1673.6,526.2 L1669.1,532.8 L1664.2,538.9 L1658.8,544.4 L1653.0,549.2 L1646.9,553.3 L1640.5,556.7 L1633.8,559.2 L1627.0,560.9 L1619.8,561.4 L1610.7,558.6 L1610.7,558.6 L1611.7,553.1 L1614.7,549.9 L1618.0,546.9 L1621.3,543.8 L1624.6,540.6 L1627.8,537.1 L1630.9,533.3 L1633.9,529.3 L1636.8,525.0 L1639.4,520.5 L1641.8,515.6 L1644.0,510.5 L1645.9,505.1 L1647.4,499.4 L1648.6,493.5 L1649.4,487.3 L1649.8,480.9 L1649.7,474.4 L1649.2,467.7 L1648.2,460.8 L1646.7,453.9 L1644.6,446.9 L1642.0,439.8 L1638.8,432.8 L1635.0,425.9 L1630.7,419.0 L1625.7,412.3 L1620.1,405.8 L1613.9,399.5 L1607.1,393.5 L1599.7,387.8 L1591.7,382.5 L1583.1,377.5 L1573.9,373.0 L1564.2,368.7 L1553.8,364.7 L1542.2,358.0 Z" fill="url(#rg44)" fill-opacity="0.88"/>
<path d="M1649.9,378.9 L1660.9,382.2 L1669.6,389.0 L1677.4,396.8 L1684.4,405.4 L1690.6,414.5 L1695.9,424.0 L1700.4,433.9 L1704.0,444.0 L1706.7,454.3 L1708.6,464.7 L1709.7,475.1 L1709.9,485.5 L1709.2,495.7 L1707.8,505.7 L1705.6,515.4 L1702.6,524.8 L1699.0,533.8 L1694.7,542.4 L1689.7,550.4 L1684.2,557.9 L1678.2,564.8 L1671.8,571.0 L1664.9,576.6 L1657.8,581.5 L1650.3,585.7 L1642.7,589.1 L1635.0,591.8 L1627.2,593.8 L1619.5,595.0 L1611.8,595.4 L1604.3,595.1 L1597.0,594.1 L1590.0,592.3 L1583.3,589.8 L1577.1,586.4 L1571.4,582.1 L1566.5,573.9 L1566.5,573.9 L1571.0,570.4 L1575.4,570.1 L1579.8,570.0 L1584.3,569.9 L1588.9,569.7 L1593.7,569.3 L1598.5,568.6 L1603.4,567.6 L1608.4,566.3 L1613.4,564.7 L1618.5,562.7 L1623.5,560.3 L1628.5,557.6 L1633.4,554.4 L1638.3,550.8 L1643.0,546.7 L1647.6,542.3 L1651.9,537.4 L1656.0,532.0 L1659.9,526.3 L1663.4,520.1 L1666.5,513.5 L1669.3,506.5 L1671.6,499.2 L1673.5,491.5 L1674.8,483.4 L1675.6,475.1 L1675.8,466.5 L1675.4,457.7 L1674.4,448.7 L1672.7,439.5 L1670.3,430.2 L1667.2,420.8 L1663.4,411.3 L1659.0,401.6 L1654.0,391.6 L1649.9,378.9 Z" fill="url(#rg45)" fill-opacity="0.88"/>
<path d="M1715.9,466.5 L1721.9,476.3 L1723.8,487.2 L1724.4,498.3 L1723.9,509.3 L1722.3,520.2 L1719.9,530.8 L1716.6,541.1 L1712.5,551.1 L1707.7,560.6 L1702.2,569.6 L1696.0,578.0 L1689.2,585.8 L1681.9,593.0 L1674.1,599.5 L1666.0,605.2 L1657.5,610.2 L1648.7,614.5 L1639.8,617.9 L1630.8,620.6 L1621.7,622.5 L1612.6,623.6 L1603.6,623.9 L1594.8,623.5 L1586.2,622.3 L1577.9,620.5 L1569.9,617.9 L1562.4,614.8 L1555.3,611.0 L1548.7,606.7 L1542.7,601.9 L1537.4,596.7 L1532.6,591.0 L1528.6,585.0 L1525.4,578.7 L1523.0,572.0 L1521.7,565.0 L1523.5,555.6 L1523.5,555.6 L1529.2,556.0 L1532.6,558.7 L1535.9,561.6 L1539.4,564.6 L1543.0,567.5 L1546.8,570.3 L1550.8,573.1 L1555.1,575.6 L1559.7,578.0 L1564.5,580.2 L1569.6,582.1 L1574.9,583.7 L1580.5,585.0 L1586.3,585.9 L1592.3,586.5 L1598.5,586.6 L1604.9,586.4 L1611.4,585.6 L1618.0,584.4 L1624.7,582.7 L1631.5,580.4 L1638.2,577.7 L1644.9,574.3 L1651.6,570.4 L1658.1,565.9 L1664.5,560.9 L1670.6,555.2 L1676.5,549.0 L1682.1,542.1 L1687.4,534.7 L1692.3,526.8 L1696.7,518.3 L1700.8,509.2 L1704.3,499.6 L1707.5,489.5 L1710.5,478.7 L1715.9,466.5 Z" fill="url(#rg46)" fill-opacity="0.88"/>
<path d="M1706.3,575.8 L1704.2,587.1 L1698.4,596.4 L1691.4,605.0 L1683.6,612.9 L1675.2,620.0 L1666.3,626.3 L1657.0,631.7 L1647.3,636.4 L1637.3,640.2 L1627.2,643.2 L1616.9,645.3 L1606.7,646.6 L1596.4,647.0 L1586.3,646.6 L1576.4,645.5 L1566.8,643.5 L1557.4,640.8 L1548.5,637.4 L1540.0,633.3 L1531.9,628.6 L1524.5,623.4 L1517.6,617.6 L1511.3,611.4 L1505.7,604.8 L1500.8,597.8 L1496.6,590.6 L1493.1,583.2 L1490.3,575.7 L1488.3,568.1 L1487.1,560.5 L1486.6,553.0 L1486.8,545.7 L1487.9,538.5 L1489.7,531.6 L1492.4,525.1 L1496.1,519.0 L1503.8,513.2 L1503.8,513.2 L1507.7,517.4 L1508.4,521.6 L1509.0,526.0 L1509.5,530.5 L1510.2,535.1 L1511.2,539.8 L1512.3,544.5 L1513.8,549.3 L1515.6,554.1 L1517.8,558.9 L1520.3,563.7 L1523.2,568.5 L1526.4,573.2 L1530.1,577.8 L1534.2,582.2 L1538.7,586.5 L1543.7,590.5 L1549.0,594.4 L1554.7,597.9 L1560.8,601.1 L1567.4,603.9 L1574.2,606.4 L1581.5,608.4 L1589.0,610.0 L1596.9,611.0 L1605.0,611.5 L1613.4,611.4 L1621.9,610.7 L1630.7,609.4 L1639.5,607.4 L1648.5,604.8 L1657.5,601.4 L1666.5,597.4 L1675.6,592.6 L1684.7,587.2 L1694.1,581.2 L1706.3,575.8 Z" fill="url(#rg47)" fill-opacity="0.88"/>
<path d="M1626.1,650.6 L1617.0,657.5 L1606.4,660.6 L1595.4,662.3 L1584.4,663.0 L1573.4,662.6 L1562.6,661.3 L1552.0,659.1 L1541.7,656.1 L1531.7,652.3 L1522.2,647.7 L1513.2,642.4 L1504.7,636.5 L1496.8,630.0 L1489.5,622.9 L1483.0,615.4 L1477.1,607.5 L1472.0,599.3 L1467.6,590.7 L1464.0,582.0 L1461.2,573.2 L1459.1,564.3 L1457.9,555.4 L1457.4,546.5 L1457.6,537.9 L1458.6,529.4 L1460.3,521.2 L1462.6,513.4 L1465.6,506.0 L1469.2,499.0 L1473.4,492.5 L1478.0,486.6 L1483.2,481.3 L1488.7,476.7 L1494.7,472.8 L1501.0,469.7 L1507.9,467.7 L1517.4,468.6 L1517.4,468.6 L1517.6,474.2 L1515.3,477.9 L1512.7,481.6 L1510.2,485.3 L1507.6,489.1 L1505.2,493.2 L1502.9,497.5 L1500.8,502.1 L1498.9,506.9 L1497.3,511.9 L1495.9,517.1 L1494.9,522.6 L1494.2,528.3 L1493.8,534.2 L1493.9,540.2 L1494.4,546.4 L1495.3,552.7 L1496.8,559.1 L1498.7,565.6 L1501.1,572.0 L1504.0,578.5 L1507.5,584.9 L1511.5,591.3 L1516.1,597.5 L1521.2,603.5 L1526.9,609.3 L1533.2,614.8 L1540.0,620.1 L1547.4,624.9 L1555.3,629.4 L1563.7,633.4 L1572.7,636.9 L1582.1,640.0 L1592.0,642.5 L1602.4,644.6 L1613.4,646.5 L1626.1,650.6 Z" fill="url(#rg48)" fill-opacity="0.88"/>
<path d="M1516.5,652.5 L1505.0,651.6 L1495.1,646.7 L1485.8,640.7 L1477.2,633.8 L1469.3,626.2 L1462.1,618.0 L1455.7,609.2 L1450.0,600.1 L1445.2,590.6 L1441.2,580.8 L1438.0,570.8 L1435.6,560.8 L1434.1,550.6 L1433.5,540.6 L1433.6,530.6 L1434.5,520.8 L1436.2,511.2 L1438.7,501.9 L1441.9,493.1 L1445.7,484.6 L1450.1,476.6 L1455.1,469.1 L1460.7,462.3 L1466.7,456.0 L1473.0,450.4 L1479.8,445.4 L1486.8,441.2 L1494.0,437.6 L1501.3,434.9 L1508.7,432.8 L1516.1,431.6 L1523.5,431.1 L1530.7,431.3 L1537.7,432.4 L1544.5,434.4 L1551.0,437.5 L1557.5,444.5 L1557.5,444.5 L1553.8,448.8 L1549.6,450.0 L1545.3,451.0 L1540.9,452.0 L1536.4,453.2 L1531.9,454.6 L1527.3,456.3 L1522.7,458.3 L1518.1,460.6 L1513.5,463.2 L1509.0,466.2 L1504.6,469.6 L1500.2,473.3 L1496.1,477.5 L1492.1,482.0 L1488.3,486.9 L1484.8,492.2 L1481.5,497.9 L1478.6,504.0 L1476.1,510.4 L1473.9,517.2 L1472.2,524.3 L1471.0,531.7 L1470.2,539.4 L1470.0,547.3 L1470.4,555.4 L1471.3,563.8 L1472.9,572.2 L1475.1,580.7 L1478.0,589.4 L1481.6,598.0 L1485.9,606.6 L1490.8,615.2 L1496.5,623.7 L1502.8,632.2 L1509.8,640.9 L1516.5,652.5 Z" fill="url(#rg49)" fill-opacity="0.88"/>
<path d="M1436.3,585.2 L1428.1,577.2 L1423.6,567.0 L1420.4,556.5 L1418.2,545.6 L1417.0,534.7 L1416.8,523.8 L1417.5,513.0 L1419.1,502.3 L1421.5,491.9 L1424.7,481.9 L1428.6,472.2 L1433.3,463.0 L1438.7,454.3 L1444.6,446.1 L1451.2,438.5 L1458.2,431.6 L1465.6,425.4 L1473.5,419.9 L1481.6,415.1 L1490.0,411.1 L1498.5,407.8 L1507.2,405.3 L1515.8,403.6 L1524.4,402.7 L1532.9,402.5 L1541.3,403.0 L1549.4,404.2 L1557.1,406.2 L1564.6,408.8 L1571.5,412.0 L1578.0,415.8 L1584.0,420.1 L1589.3,424.9 L1594.0,430.3 L1597.9,436.2 L1600.9,442.7 L1601.4,452.2 L1601.4,452.2 L1595.8,453.2 L1591.8,451.4 L1587.9,449.4 L1583.8,447.4 L1579.7,445.4 L1575.3,443.6 L1570.7,441.9 L1565.9,440.4 L1560.9,439.2 L1555.7,438.3 L1550.3,437.7 L1544.7,437.4 L1539.0,437.5 L1533.2,438.0 L1527.2,438.9 L1521.1,440.3 L1515.0,442.1 L1508.9,444.4 L1502.7,447.1 L1496.6,450.4 L1490.6,454.2 L1484.8,458.6 L1479.0,463.4 L1473.5,468.8 L1468.3,474.8 L1463.4,481.2 L1458.7,488.2 L1454.5,495.7 L1450.7,503.7 L1447.4,512.1 L1444.6,521.0 L1442.3,530.4 L1440.6,540.1 L1439.5,550.3 L1438.9,560.9 L1438.6,572.1 L1436.3,585.2 Z" fill="url(#rg50)" fill-opacity="0.88"/>
<path d="M1418.1,482.1 L1417.0,470.7 L1420.1,460.1 L1424.4,449.9 L1429.7,440.2 L1435.8,431.1 L1442.7,422.6 L1450.1,414.7 L1458.2,407.6 L1466.7,401.2 L1475.6,395.5 L1484.9,390.7 L1494.4,386.6 L1504.1,383.4 L1513.9,380.9 L1523.8,379.3 L1533.6,378.6 L1543.3,378.6 L1552.9,379.4 L1562.2,381.0 L1571.2,383.3 L1579.8,386.3 L1588.0,389.9 L1595.8,394.1 L1603.0,399.0 L1609.6,404.3 L1615.7,410.0 L1621.1,416.2 L1625.8,422.7 L1629.8,429.4 L1633.1,436.4 L1635.6,443.4 L1637.4,450.6 L1638.4,457.7 L1638.5,464.9 L1637.7,471.9 L1635.8,478.8 L1630.1,486.4 L1630.1,486.4 L1625.2,483.5 L1623.2,479.6 L1621.5,475.5 L1619.7,471.4 L1617.8,467.2 L1615.6,463.0 L1613.2,458.7 L1610.5,454.5 L1607.4,450.4 L1604.0,446.4 L1600.3,442.4 L1596.2,438.6 L1591.7,435.0 L1586.9,431.6 L1581.8,428.5 L1576.3,425.6 L1570.4,423.1 L1564.2,420.9 L1557.8,419.1 L1551.0,417.7 L1543.9,416.7 L1536.6,416.3 L1529.1,416.3 L1521.4,416.9 L1513.6,418.1 L1505.7,419.9 L1497.7,422.3 L1489.6,425.3 L1481.6,429.0 L1473.6,433.3 L1465.7,438.3 L1458.0,444.0 L1450.4,450.4 L1443.0,457.5 L1435.7,465.2 L1428.3,473.5 L1418.1,482.1 Z" fill="url(#rg51)" fill-opacity="0.88"/>
<path d="M1573.9,362.8 L1584.1,363.5 L1594.2,364.9 L1604.1,367.0 L1613.9,369.8 L1623.5,373.3 L1632.8,377.5 L1641.8,382.3 L1650.4,387.7 L1658.7,393.7 L1666.5,400.2 L1673.8,407.3 L1680.6,414.9 L1686.9,422.9 L1692.6,431.3 L1697.7,440.2 L1702.2,449.3 L1706.0,458.8 L1709.1,468.5 L1708.2,468.7 L1701.3,460.5 L1695.1,452.5 L1688.7,444.9 L1682.2,437.8 L1675.6,431.1 L1669.0,424.7 L1662.2,418.5 L1655.2,412.7 L1648.2,407.0 L1641.0,401.6 L1633.7,396.3 L1626.1,391.2 L1618.3,386.2 L1610.1,381.5 L1601.7,376.9 L1592.8,372.6 L1583.5,368.4 L1573.9,363.8 Z" fill="url(#rg52)" fill-opacity="0.95"/>
<path d="M1697.7,440.2 L1702.2,449.3 L1706.0,458.8 L1709.1,468.5 L1711.6,478.3 L1713.4,488.4 L1714.4,498.5 L1714.8,508.7 L1714.4,518.9 L1713.4,529.0 L1711.6,539.1 L1709.1,548.9 L1706.0,558.6 L1702.2,568.1 L1697.7,577.2 L1692.6,586.1 L1686.9,594.5 L1680.6,602.5 L1673.8,610.1 L1673.1,609.4 L1676.5,599.1 L1679.9,589.4 L1683.0,580.1 L1685.7,570.8 L1688.0,561.8 L1690.0,552.8 L1691.7,543.9 L1693.2,535.2 L1694.6,526.4 L1695.7,517.6 L1696.7,508.7 L1697.4,499.7 L1698.0,490.5 L1698.3,481.2 L1698.2,471.6 L1697.9,461.7 L1697.2,451.5 L1696.8,440.6 Z" fill="url(#rg53)" fill-opacity="0.97"/>
<path d="M1696.5,579.5 L1691.2,588.2 L1685.4,596.6 L1679.0,604.5 L1672.0,611.9 L1664.6,618.9 L1656.7,625.3 L1648.3,631.1 L1639.6,636.4 L1630.5,641.0 L1621.1,645.0 L1611.5,648.3 L1601.6,651.0 L1591.6,652.9 L1581.5,654.1 L1571.3,654.7 L1561.2,654.5 L1551.0,653.6 L1540.9,652.0 L1541.1,651.0 L1551.5,649.2 L1561.5,647.6 L1571.2,645.6 L1580.6,643.4 L1589.7,640.7 L1598.6,637.8 L1607.3,634.6 L1615.8,631.2 L1624.2,627.4 L1632.4,623.4 L1640.5,619.1 L1648.6,614.5 L1656.5,609.6 L1664.4,604.3 L1672.2,598.6 L1679.9,592.4 L1687.5,585.8 L1695.6,579.0 Z" fill="url(#rg54)" fill-opacity="0.95"/>
<path d="M1535.6,443.5 L1538.1,436.3 L1541.9,430.7 L1546.6,425.9 L1551.9,422.0 L1557.8,418.9 L1564.0,416.9 L1570.4,415.8 L1576.9,415.9 L1583.3,417.0 L1589.5,419.1 L1595.2,422.2 L1600.5,426.2 L1605.0,431.0 L1608.8,436.6 L1611.6,442.8 L1612.9,450.2 L1612.3,451.0 L1608.1,448.1 L1603.8,445.6 L1599.3,443.3 L1594.7,441.3 L1589.9,439.7 L1585.0,438.4 L1580.1,437.4 L1575.1,436.8 L1570.1,436.5 L1565.0,436.6 L1560.0,437.0 L1555.0,437.8 L1550.1,439.0 L1545.3,440.4 L1540.6,442.2 L1536.0,444.4 Z" fill="url(#rg55)" fill-opacity="0.97"/>
<path d="M1599.7,442.4 L1606.8,440.2 L1613.4,440.0 L1619.9,440.8 L1626.1,442.7 L1631.9,445.6 L1637.1,449.3 L1641.6,453.9 L1645.2,459.1 L1647.9,464.8 L1649.7,471.0 L1650.4,477.4 L1650.1,483.9 L1648.7,490.3 L1646.2,496.4 L1641.7,502.3 L1640.7,502.4 L1640.1,497.4 L1639.1,492.5 L1637.8,487.6 L1636.2,482.8 L1634.2,478.2 L1631.9,473.7 L1629.4,469.4 L1626.5,465.2 L1623.3,461.3 L1619.9,457.6 L1616.2,454.2 L1612.3,451.0 L1608.1,448.1 L1603.8,445.6 L1599.3,443.3 Z" fill="url(#rg56)" fill-opacity="0.95"/>
<path d="M1637.6,483.7 L1642.4,487.6 L1646.1,492.3 L1649.1,497.4 L1651.3,502.9 L1652.7,508.7 L1653.3,514.6 L1653.1,520.6 L1652.1,526.4 L1650.2,532.1 L1647.6,537.4 L1644.3,542.3 L1640.4,546.7 L1635.8,550.6 L1630.8,553.7 L1624.9,555.8 L1624.1,555.1 L1627.2,551.1 L1630.0,547.0 L1632.5,542.6 L1634.8,538.1 L1636.6,533.4 L1638.2,528.6 L1639.4,523.7 L1640.3,518.7 L1640.8,513.7 L1641.0,508.7 L1640.8,503.7 L1640.3,498.7 L1639.4,493.7 L1638.2,488.8 L1636.6,484.0 Z" fill="url(#rg57)" fill-opacity="0.97"/>
<path d="M1639.5,527.6 L1642.9,534.2 L1644.2,540.7 L1644.5,547.3 L1643.7,553.7 L1641.9,559.9 L1639.1,565.6 L1635.4,570.8 L1630.9,575.3 L1625.7,579.0 L1620.0,581.8 L1613.8,583.6 L1607.4,584.4 L1600.8,584.1 L1594.3,582.8 L1587.7,579.4 L1587.5,578.4 L1592.3,577.0 L1597.0,575.2 L1601.6,573.0 L1606.0,570.6 L1610.2,567.8 L1614.2,564.8 L1618.0,561.5 L1621.6,557.9 L1624.9,554.1 L1627.9,550.1 L1630.7,545.9 L1633.1,541.5 L1635.3,536.9 L1637.1,532.2 L1638.5,527.4 Z" fill="url(#rg58)" fill-opacity="0.95"/>
<path d="M1602.0,573.9 L1598.7,579.1 L1594.4,583.2 L1589.7,586.6 L1584.5,589.5 L1579.0,591.6 L1573.2,593.0 L1567.3,593.7 L1561.4,593.6 L1555.5,592.7 L1549.8,591.0 L1544.4,588.6 L1539.3,585.5 L1534.7,581.8 L1530.6,577.6 L1527.2,572.8 L1524.7,567.2 L1525.3,566.4 L1529.5,569.3 L1533.8,571.8 L1538.3,574.1 L1542.9,576.1 L1547.7,577.7 L1552.6,579.0 L1557.5,580.0 L1562.5,580.6 L1567.5,580.9 L1572.6,580.8 L1577.6,580.4 L1582.6,579.6 L1587.5,578.4 L1592.3,577.0 L1597.0,575.2 L1601.6,573.0 Z" fill="url(#rg59)" fill-opacity="0.95"/>
<path d="M1496.3,498.5 L1494.8,493.0 L1494.4,487.4 L1494.7,481.7 L1495.7,476.2 L1497.3,470.7 L1499.6,465.4 L1502.4,460.5 L1505.8,455.9 L1509.8,451.7 L1514.2,448.0 L1519.0,444.9 L1524.1,442.4 L1529.4,440.4 L1534.9,439.2 L1540.5,438.6 L1546.2,439.1 L1546.5,440.0 L1541.8,441.8 L1537.1,443.8 L1532.7,446.2 L1528.4,448.8 L1524.3,451.8 L1520.5,455.0 L1516.9,458.5 L1513.5,462.3 L1510.4,466.3 L1507.6,470.4 L1505.1,474.8 L1502.8,479.3 L1501.0,484.0 L1499.4,488.8 L1498.2,493.7 L1497.3,498.7 Z" fill="url(#rg60)" fill-opacity="0.95"/>
<path d="M1508.7,400.2 L1515.6,393.9 L1523.1,388.0 L1531.2,382.6 L1539.9,378.1 L1549.1,374.4 L1558.7,371.6 L1568.6,370.1 L1578.7,370.1 L1588.6,371.5 L1598.2,374.4 L1607.3,378.5 L1615.7,383.9 L1623.3,390.5 L1629.9,397.8 L1635.8,405.5 L1635.2,406.4 L1625.4,406.0 L1616.0,406.3 L1606.9,407.3 L1598.5,408.3 L1590.4,409.8 L1582.8,411.3 L1575.7,411.8 L1568.7,410.7 L1561.4,408.2 L1553.6,405.2 L1545.4,402.8 L1536.8,401.3 L1527.7,400.2 L1518.3,399.8 L1508.7,400.2 Z" fill="url(#rg61)" fill-opacity="0.92"/>
<path d="M1640.5,410.0 L1648.3,413.9 L1655.9,418.5 L1663.1,423.8 L1669.7,429.9 L1675.4,436.8 L1680.5,444.2 L1684.9,452.1 L1688.5,460.3 L1691.4,468.9 L1693.5,477.6 L1694.7,486.5 L1694.9,495.5 L1693.7,504.3 L1691.0,513.0 L1687.4,521.2 L1683.0,528.8 L1675.2,527.5 L1673.6,519.7 L1671.7,512.3 L1669.6,505.2 L1667.6,498.3 L1665.7,491.6 L1663.8,485.0 L1661.9,478.5 L1659.9,471.9 L1657.9,465.2 L1655.7,458.5 L1653.3,451.7 L1650.8,444.7 L1648.2,437.2 L1645.5,429.3 L1642.2,421.3 L1638.2,413.2 Z" fill="url(#rg62)" fill-opacity="0.92"/>
<path d="M1688.5,517.1 L1689.2,525.6 L1689.3,534.3 L1688.6,543.1 L1687.2,551.8 L1684.8,560.4 L1681.5,568.6 L1677.5,576.6 L1672.6,584.2 L1667.1,591.2 L1660.9,597.6 L1654.0,603.3 L1646.5,608.1 L1638.5,612.1 L1630.3,615.2 L1621.8,617.3 L1613.2,618.5 L1604.6,618.7 L1596.1,618.2 L1587.9,617.0 L1587.6,615.1 L1594.5,611.6 L1601.0,607.8 L1607.2,603.6 L1613.0,599.2 L1618.5,594.7 L1623.6,589.9 L1628.4,585.0 L1633.1,580.2 L1637.9,575.4 L1642.7,570.7 L1647.5,565.9 L1652.3,560.9 L1657.1,555.7 L1662.0,550.2 L1667.1,544.5 L1672.3,538.4 L1677.4,531.8 L1682.2,524.6 L1686.5,516.9 Z" fill="url(#rg63)" fill-opacity="0.90"/>
<path d="M1655.3,462.7 L1659.8,468.4 L1663.8,474.5 L1667.4,481.1 L1670.3,488.0 L1672.5,495.2 L1673.9,502.6 L1674.6,510.2 L1674.5,517.8 L1673.4,525.4 L1671.4,532.7 L1668.7,539.8 L1665.1,546.5 L1661.0,552.7 L1656.1,558.4 L1650.6,563.4 L1644.8,567.8 L1638.7,571.6 L1637.2,570.3 L1639.2,563.4 L1640.6,556.7 L1641.7,550.2 L1642.6,544.0 L1643.6,538.0 L1644.4,532.2 L1645.1,526.6 L1645.9,521.0 L1646.6,515.4 L1647.4,509.8 L1648.1,504.1 L1649.0,498.3 L1650.0,492.1 L1651.3,485.6 L1652.5,478.6 L1653.4,471.3 L1653.6,463.6 Z" fill="url(#rg64)" fill-opacity="0.90"/>
</g>
<path d="M1556.4,650.2 L1546.7,648.3 L1537.2,645.6 L1528.0,642.0 L1519.3,637.6 L1511.0,632.6 L1503.2,627.1 L1495.9,621.0 L1489.1,614.5 L1482.9,607.5 L1477.2,600.3 L1472.0,592.9 L1467.2,585.3 L1462.8,577.5 L1458.9,569.6 L1455.6,561.5 L1452.9,553.2 L1450.9,544.7 L1449.9,536.1 L1449.0,527.7 L1448.3,519.2 L1447.8,510.8 L1447.8,502.4 L1448.3,493.9 L1449.3,485.5 L1451.0,477.1 L1453.2,468.9 L1456.0,460.8 L1459.4,452.9 L1463.3,445.3 L1467.8,438.0 L1472.9,431.0 L1478.4,424.4 L1484.4,418.2 L1490.8,412.4 L1497.7,407.1 L1504.9,402.3 L1513.0,399.1 L1521.7,397.8 L1530.6,397.7 L1539.3,398.6 L1547.9,401.0 L1556.0,404.5 L1563.5,407.5 L1570.5,410.1 L1577.2,413.1 L1577.1,414.1 L1570.4,414.5 L1563.9,415.4 L1557.5,416.9 L1551.4,419.2 L1545.5,421.8 L1539.9,424.7 L1534.5,427.8 L1529.3,431.2 L1524.1,434.4 L1518.9,437.4 L1513.9,440.8 L1509.0,444.6 L1504.4,448.7 L1500.1,453.1 L1496.1,457.8 L1492.6,462.9 L1489.4,468.2 L1486.7,473.8 L1484.3,479.6 L1482.5,485.6 L1481.0,491.6 L1479.9,497.8 L1479.3,504.0 L1479.0,510.3 L1479.1,516.5 L1479.5,522.8 L1480.1,529.2 L1480.7,535.6 L1481.7,542.1 L1483.2,548.6 L1485.1,555.1 L1487.4,561.6 L1490.0,568.1 L1493.0,574.6 L1496.3,581.2 L1500.0,587.8 L1504.2,594.4 L1508.9,600.9 L1514.1,607.3 L1519.9,613.7 L1526.1,620.0 L1532.8,626.3 L1540.2,632.7 L1548.1,639.5 L1556.8,646.2 Z" fill="url(#rg65)" fill-opacity="0.85"/>
</g>
<path d="M1325.5,448 L1325.5,568" stroke="#6d6e71" stroke-width="2.6"/>
<g fill="#6d6e71" class="b" font-size="24.5">
<text x="1049.4" y="502" textLength="64.9" lengthAdjust="spacingAndGlyphs">100%</text>
<text x="1034.9" y="528.4" textLength="93.4" lengthAdjust="spacingAndGlyphs">passive</text>
<text x="1520.9" y="494" textLength="89.5" lengthAdjust="spacingAndGlyphs">Active-</text>
<text x="1522.2" y="520.5" textLength="93.5" lengthAdjust="spacingAndGlyphs">passive</text>
<text x="1544.7" y="547.7" textLength="46.9" lengthAdjust="spacingAndGlyphs">mix</text>
</g>
<!-- PEOPLE ICONS (crop coords: scale 11.24, offset 420,650) -->
<defs>
<linearGradient id="pb1" x1="0" y1="0" x2="1" y2="1"><stop offset="0" stop-color="#9a4aa2"/><stop offset="0.55" stop-color="#a36ab4"/><stop offset="1" stop-color="#8e3f9a"/></linearGradient>
<linearGradient id="pb2" x1="0" y1="0" x2="1" y2="1"><stop offset="0" stop-color="#b04a9c"/><stop offset="0.5" stop-color="#9a46a0"/><stop offset="1" stop-color="#a04aa0"/></linearGradient>
<linearGradient id="pb3" x1="0" y1="0" x2="1" y2="0.6"><stop offset="0" stop-color="#9a44a0"/><stop offset="0.5" stop-color="#b4489c"/><stop offset="1" stop-color="#a84a9e"/></linearGradient>
<clipPath id="b1c"><path d="M112,545 Q112,492 150,486 L245,470 L487,470 L580,486 Q618,492 618,545 Q615,700 500,790 Q365,875 230,790 Q115,700 112,545 Z"/></clipPath>
<clipPath id="b2c"><path d="M640,700 Q640,650 680,640 L745,618 L1018,618 L1080,640 Q1120,650 1120,700 Q1115,850 1010,925 Q880,1005 750,925 Q645,850 640,700 Z"/></clipPath>
<clipPath id="b3c"><path d="M1140,590 Q1140,545 1175,540 L1265,522 L1500,522 L1590,540 Q1625,545 1625,590 Q1620,730 1510,810 Q1385,890 1255,810 Q1145,730 1140,590 Z"/></clipPath>
</defs>
<g transform="translate(420,650) scale(0.08897)">
<!-- fig1 -->
<g clip-path="url(#b1c)">
<rect x="100" y="450" width="530" height="420" fill="url(#pb1)"/>
<path d="M100,760 Q365,860 630,760 L630,880 L100,880 Z" fill="#6a2a84"/>
<path d="M500,470 L630,470 L630,560 Z" fill="#7c3592"/>
<path d="M248,465 L487,465 L367,775 Z" fill="#fff"/>
<path d="M343,578 L392,578 L418,800 L318,800 Z" fill="#9a55a8"/>
</g>
<circle cx="200" cy="318" r="30" fill="#fff" stroke="#9a5aa8" stroke-width="25"/>
<circle cx="533" cy="318" r="30" fill="#fff" stroke="#a84a9c" stroke-width="25"/>
<path d="M365,110 C260,110 215,190 215,300 C215,400 290,495 365,495 C440,495 515,400 515,300 C515,190 470,110 365,110 Z" fill="#fff" stroke="#a0489e" stroke-width="25"/>
<path d="M222,260 Q225,170 280,130" fill="none" stroke="#8a4a9c" stroke-width="34"/>
<path d="M508,260 Q505,170 450,130" fill="none" stroke="#a8489c" stroke-width="34"/>
<rect x="250" y="290" width="88" height="50" rx="6" fill="#fff" stroke="#9a5aa8" stroke-width="17"/>
<rect x="393" y="290" width="88" height="50" rx="6" fill="#fff" stroke="#a0509e" stroke-width="17"/>
<path d="M338,308 L393,308" stroke="#a0509e" stroke-width="12"/>
<!-- fig2 -->
<g clip-path="url(#b2c)">
<rect x="630" y="600" width="500" height="420" fill="url(#pb2)"/>
<path d="M630,600 L780,600 L880,720 L980,600 L1130,600 L1130,690 L980,750 L630,700 Z" fill="#6e2d86"/>
<path d="M630,690 L880,760 L880,830 L630,830 Z" fill="#b04a9c"/>
<path d="M980,750 L1130,690 L1130,790 Z" fill="#a87fb8"/>
<path d="M745,600 L1018,600 L1018,615 L950,740 L880,700 L810,740 L745,615 Z" fill="#fff"/>
<circle cx="880" cy="768" r="9" fill="#fff"/><circle cx="880" cy="820" r="9" fill="#fff"/><circle cx="880" cy="872" r="9" fill="#fff"/><circle cx="880" cy="922" r="9" fill="#fff"/>
</g>
<path d="M880,212 C760,212 705,300 705,420 L712,590 L790,570 L980,570 L1045,590 L1055,420 C1055,300 1000,212 880,212 Z" fill="#a0489e"/>
<path d="M880,212 C800,212 760,250 840,270 Q900,350 1020,330 L1040,340 C1020,260 970,212 880,212 Z" fill="#6a2a84"/>
<path d="M1020,330 L1052,400 L1052,460 L985,330 Z" fill="#a673b4"/>
<path d="M840,285 C790,340 740,390 722,440 C722,530 800,635 880,635 C960,635 1040,530 1040,440 C1040,400 1020,360 1000,335 C940,350 880,330 840,285 Z" fill="#fff" stroke="#9a479f" stroke-width="25"/>
<circle cx="708" cy="455" r="22" fill="#fff" stroke="#9a479f" stroke-width="20"/>
<circle cx="1052" cy="455" r="22" fill="#fff" stroke="#9a479f" stroke-width="20"/>
<ellipse cx="822" cy="410" rx="52" ry="42" fill="#fff" stroke="#a0489e" stroke-width="18"/>
<ellipse cx="948" cy="410" rx="52" ry="42" fill="#fff" stroke="#a0489e" stroke-width="18"/>
<!-- fig3 -->
<g clip-path="url(#b3c)">
<rect x="1130" y="500" width="510" height="400" fill="url(#pb3)"/>
<path d="M1130,800 L1640,760 L1640,900 L1130,900 Z" fill="#5f2a7c"/>
<path d="M1268,515 L1500,515 L1440,840 L1330,840 Z" fill="#fff"/>
<path d="M1360,622 L1410,622 L1432,860 L1338,860 Z" fill="#b0489c"/>
<path d="M1338,790 L1432,790 L1440,870 L1330,870 Z" fill="#6a2a84"/>
</g>
<circle cx="1225" cy="372" r="24" fill="#fff" stroke="#9a4aa0" stroke-width="20"/>
<circle cx="1545" cy="372" r="24" fill="#fff" stroke="#a8489c" stroke-width="20"/>
<path d="M1240,340 C1235,440 1310,545 1385,545 C1460,545 1535,440 1530,340 C1530,290 1500,235 1385,235 C1270,235 1240,290 1240,340 Z" fill="#fff" stroke="#a0489e" stroke-width="25"/>
<path d="M1226,318 C1218,225 1250,168 1295,160 L1312,140 C1352,120 1412,118 1452,130 L1498,138 L1514,152 C1546,200 1552,255 1542,318 L1512,300 L1478,262 L1440,262 L1395,232 L1355,268 L1330,252 L1296,300 L1268,282 Z" fill="#a673b4"/>
<rect x="1272" y="345" width="85" height="45" rx="8" fill="#fff" stroke="#a673b4" stroke-width="17"/>
<rect x="1410" y="345" width="85" height="45" rx="8" fill="#fff" stroke="#9a55a8" stroke-width="17"/>
<path d="M1357,362 L1410,362" stroke="#9a55a8" stroke-width="12"/>
</g>
<!-- ALPHA ICON (crop coords scale 5, offset 100,935) -->
<defs>
<clipPath id="alc"><path fill-rule="evenodd" clip-rule="evenodd" d="M245,70 C320,70 345,100 350,95 L395,95 L390,130 C385,200 380,260 385,290 C390,310 420,305 435,292 C440,330 425,385 385,385 C350,390 320,370 305,350 C290,380 260,395 225,395 C150,395 105,330 105,235 C105,140 160,70 245,70 Z M250,140 C215,140 195,190 198,240 C200,290 220,320 245,320 C275,320 295,270 295,225 C295,175 280,140 250,140 Z"/></clipPath>
<mask id="dlm" maskUnits="userSpaceOnUse" x="1400" y="30" width="280" height="430"><rect x="1400" y="30" width="280" height="430" fill="#000"/>
<path d="M1618,150 C1585,112 1500,105 1480,160 C1462,222 1612,222 1612,300 C1612,368 1505,372 1452,328" fill="none" stroke="#fff" stroke-width="68"/>
<rect x="1530" y="45" width="36" height="70" fill="#fff"/><rect x="1530" y="370" width="36" height="70" fill="#fff"/></mask>
</defs>
<g transform="translate(100,935) scale(0.2)">
<g clip-path="url(#alc)">
<rect x="90" y="60" width="360" height="345" fill="#93409b"/>
<path d="M90,60 L330,60 L280,120 L150,150 L90,210 Z" fill="#a8489e"/>
<path d="M280,60 L450,60 L450,130 L320,130 Z" fill="#6a2a84"/>
<path d="M320,130 L400,125 L395,190 Z" fill="#a673b4"/>
<path d="M90,180 L130,170 L200,300 L90,280 Z" fill="#a568b0"/>
<path d="M90,275 L210,300 L250,330 L330,350 L420,390 L420,410 L90,410 Z" fill="#6a2a84"/>
<path d="M285,300 L340,290 L450,300 L450,380 L400,375 L320,340 Z" fill="#b4469a"/>
</g>
<!-- DOLLAR -->
<g mask="url(#dlm)">
<rect x="1420" y="40" width="240" height="410" fill="#93409b"/>
<path d="M1420,40 L1660,40 L1660,110 L1560,100 L1500,95 L1420,130 Z" fill="#6a2a84"/>
<path d="M1540,110 L1640,118 L1610,165 Z" fill="#a673b4"/>
<path d="M1420,130 L1540,100 L1500,180 L1560,240 L1420,260 Z" fill="#a04aa2"/>
<path d="M1560,300 L1660,280 L1660,400 L1580,380 L1520,340 Z" fill="#b4469a"/>
<path d="M1420,300 L1470,300 L1580,380 L1580,450 L1420,450 Z" fill="#5f2a7c"/>
</g>
</g>
<!-- GAUGE (crop coords scale 4.4975, offset 1000,935) -->
<defs>
<clipPath id="gac"><path d="M113,318 C113,170 230,72 372,72 C515,72 632,170 632,318 Z"/></clipPath>
</defs>
<g transform="translate(1000,935) scale(0.22235)">
<g clip-path="url(#gac)">
<rect x="100" y="60" width="545" height="270" fill="#93409b"/>
<path d="M100,330 L100,60 L240,60 L330,250 L280,330 Z" fill="#a566b0"/>
<path d="M100,330 C150,250 230,200 290,195 L330,260 L280,330 Z" fill="#93409b"/>
<path d="M240,100 L300,70 L420,130 L500,110 L440,240 L320,240 Z" fill="#9a46a0"/>
<path d="M240,100 L300,75 L420,135 L330,140 L260,130 Z" fill="#b4469a"/>
<path d="M290,80 C340,60 440,60 500,100 L480,130 C420,135 360,110 290,80 Z" fill="#5f2a7c"/>
<path d="M420,135 L480,128 L440,200 Z" fill="#a566b0"/>
<path d="M500,100 L645,60 L645,330 L540,330 L430,240 Z" fill="#5a2877"/>
<path d="M430,240 L480,180 C520,230 540,290 548,330 L470,330 Z" fill="#b0449a"/>
<path d="M320,240 L235,105" stroke="#fff" stroke-width="12"/>
<path d="M430,240 L502,105" stroke="#fff" stroke-width="12"/>
</g>
<path d="M86,315.500 L660,315.500 Q678,315.500 678,333.500 Q678,351.500 660,351.500 L86,351.500 Q68,351.500 68,333.500 Q68,315.500 86,315.500 Z" fill="#808285"/>
<circle cx="372" cy="333" r="106" fill="#fff"/>
<rect x="260" y="352" width="230" height="100" fill="#fff"/>
<path d="M362,320 L393,268 L390,335 Z" fill="#2a9fc8"/>
<circle cx="372" cy="335" r="29" fill="#808285"/>
<!-- WARNING -->
<path d="M1490,95 Q1523,55 1556,95 L1680,300 Q1705,357 1650,357 L1398,357 Q1340,357 1366,300 Z" fill="#93409b"/>
</g>
<defs><clipPath id="wac"><path d="M1490,95 Q1523,55 1556,95 L1680,300 Q1705,357 1650,357 L1398,357 Q1340,357 1366,300 Z"/></clipPath></defs>
<g transform="translate(1000,935) scale(0.22235)">
<g clip-path="url(#wac)">
<path d="M1440,60 L1600,60 L1600,105 L1440,105 Z" fill="#6b2d84"/>
<path d="M1490,105 L1580,105 L1600,160 Z" fill="#a873b6"/>
<path d="M1340,250 L1420,270 L1480,280 L1600,357 L1340,357 Z" fill="#5a2877"/>
<path d="M1340,250 L1400,235 L1480,280 L1420,275 Z" fill="#a566b0"/>
<path d="M1480,280 C1560,285 1620,260 1660,240 L1720,357 L1600,357 Z" fill="#b84a9a"/>
</g>
<rect x="1505" y="135" width="35" height="128" fill="#fff"/>
<rect x="1505" y="280" width="35" height="29" fill="#fff"/>
</g>
</svg></body></html>
